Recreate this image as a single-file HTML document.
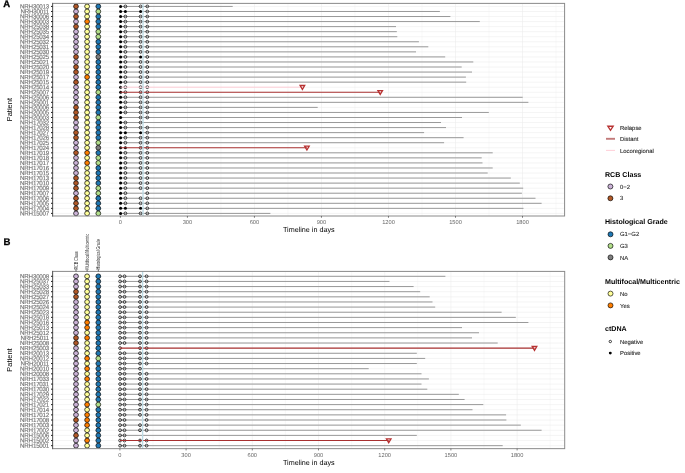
<!DOCTYPE html><html><head><meta charset="utf-8"><style>html,body{margin:0;padding:0;background:#fff;}svg{display:block;will-change:transform;}text{font-family:"Liberation Sans",sans-serif;text-rendering:geometricPrecision;}</style></head><body>
<svg width="685" height="473" viewBox="0 0 685 473">
<rect width="685" height="473" fill="#fff"/>
<line x1="120.40" y1="3.38" x2="120.40" y2="216.0" stroke="#ebebeb" stroke-width="0.55"/>
<line x1="153.91" y1="3.38" x2="153.91" y2="216.0" stroke="#f4f4f4" stroke-width="0.55"/>
<line x1="187.42" y1="3.38" x2="187.42" y2="216.0" stroke="#ebebeb" stroke-width="0.55"/>
<line x1="220.93" y1="3.38" x2="220.93" y2="216.0" stroke="#f4f4f4" stroke-width="0.55"/>
<line x1="254.43" y1="3.38" x2="254.43" y2="216.0" stroke="#ebebeb" stroke-width="0.55"/>
<line x1="287.94" y1="3.38" x2="287.94" y2="216.0" stroke="#f4f4f4" stroke-width="0.55"/>
<line x1="321.45" y1="3.38" x2="321.45" y2="216.0" stroke="#ebebeb" stroke-width="0.55"/>
<line x1="354.96" y1="3.38" x2="354.96" y2="216.0" stroke="#f4f4f4" stroke-width="0.55"/>
<line x1="388.47" y1="3.38" x2="388.47" y2="216.0" stroke="#ebebeb" stroke-width="0.55"/>
<line x1="421.98" y1="3.38" x2="421.98" y2="216.0" stroke="#f4f4f4" stroke-width="0.55"/>
<line x1="455.49" y1="3.38" x2="455.49" y2="216.0" stroke="#ebebeb" stroke-width="0.55"/>
<line x1="488.99" y1="3.38" x2="488.99" y2="216.0" stroke="#f4f4f4" stroke-width="0.55"/>
<line x1="522.50" y1="3.38" x2="522.50" y2="216.0" stroke="#ebebeb" stroke-width="0.55"/>
<line x1="556.01" y1="3.38" x2="556.01" y2="216.0" stroke="#f4f4f4" stroke-width="0.55"/>
<line x1="52.6" y1="6.43" x2="564.6" y2="6.43" stroke="#ebebeb" stroke-width="0.55"/>
<line x1="52.6" y1="11.48" x2="564.6" y2="11.48" stroke="#ebebeb" stroke-width="0.55"/>
<line x1="52.6" y1="16.53" x2="564.6" y2="16.53" stroke="#ebebeb" stroke-width="0.55"/>
<line x1="52.6" y1="21.57" x2="564.6" y2="21.57" stroke="#ebebeb" stroke-width="0.55"/>
<line x1="52.6" y1="26.62" x2="564.6" y2="26.62" stroke="#ebebeb" stroke-width="0.55"/>
<line x1="52.6" y1="31.67" x2="564.6" y2="31.67" stroke="#ebebeb" stroke-width="0.55"/>
<line x1="52.6" y1="36.72" x2="564.6" y2="36.72" stroke="#ebebeb" stroke-width="0.55"/>
<line x1="52.6" y1="41.77" x2="564.6" y2="41.77" stroke="#ebebeb" stroke-width="0.55"/>
<line x1="52.6" y1="46.81" x2="564.6" y2="46.81" stroke="#ebebeb" stroke-width="0.55"/>
<line x1="52.6" y1="51.86" x2="564.6" y2="51.86" stroke="#ebebeb" stroke-width="0.55"/>
<line x1="52.6" y1="56.91" x2="564.6" y2="56.91" stroke="#ebebeb" stroke-width="0.55"/>
<line x1="52.6" y1="61.96" x2="564.6" y2="61.96" stroke="#ebebeb" stroke-width="0.55"/>
<line x1="52.6" y1="67.01" x2="564.6" y2="67.01" stroke="#ebebeb" stroke-width="0.55"/>
<line x1="52.6" y1="72.05" x2="564.6" y2="72.05" stroke="#ebebeb" stroke-width="0.55"/>
<line x1="52.6" y1="77.10" x2="564.6" y2="77.10" stroke="#ebebeb" stroke-width="0.55"/>
<line x1="52.6" y1="82.15" x2="564.6" y2="82.15" stroke="#ebebeb" stroke-width="0.55"/>
<line x1="52.6" y1="87.20" x2="564.6" y2="87.20" stroke="#ebebeb" stroke-width="0.55"/>
<line x1="52.6" y1="92.25" x2="564.6" y2="92.25" stroke="#ebebeb" stroke-width="0.55"/>
<line x1="52.6" y1="97.29" x2="564.6" y2="97.29" stroke="#ebebeb" stroke-width="0.55"/>
<line x1="52.6" y1="102.34" x2="564.6" y2="102.34" stroke="#ebebeb" stroke-width="0.55"/>
<line x1="52.6" y1="107.39" x2="564.6" y2="107.39" stroke="#ebebeb" stroke-width="0.55"/>
<line x1="52.6" y1="112.44" x2="564.6" y2="112.44" stroke="#ebebeb" stroke-width="0.55"/>
<line x1="52.6" y1="117.49" x2="564.6" y2="117.49" stroke="#ebebeb" stroke-width="0.55"/>
<line x1="52.6" y1="122.53" x2="564.6" y2="122.53" stroke="#ebebeb" stroke-width="0.55"/>
<line x1="52.6" y1="127.58" x2="564.6" y2="127.58" stroke="#ebebeb" stroke-width="0.55"/>
<line x1="52.6" y1="132.63" x2="564.6" y2="132.63" stroke="#ebebeb" stroke-width="0.55"/>
<line x1="52.6" y1="137.68" x2="564.6" y2="137.68" stroke="#ebebeb" stroke-width="0.55"/>
<line x1="52.6" y1="142.73" x2="564.6" y2="142.73" stroke="#ebebeb" stroke-width="0.55"/>
<line x1="52.6" y1="147.77" x2="564.6" y2="147.77" stroke="#ebebeb" stroke-width="0.55"/>
<line x1="52.6" y1="152.82" x2="564.6" y2="152.82" stroke="#ebebeb" stroke-width="0.55"/>
<line x1="52.6" y1="157.87" x2="564.6" y2="157.87" stroke="#ebebeb" stroke-width="0.55"/>
<line x1="52.6" y1="162.92" x2="564.6" y2="162.92" stroke="#ebebeb" stroke-width="0.55"/>
<line x1="52.6" y1="167.97" x2="564.6" y2="167.97" stroke="#ebebeb" stroke-width="0.55"/>
<line x1="52.6" y1="173.01" x2="564.6" y2="173.01" stroke="#ebebeb" stroke-width="0.55"/>
<line x1="52.6" y1="178.06" x2="564.6" y2="178.06" stroke="#ebebeb" stroke-width="0.55"/>
<line x1="52.6" y1="183.11" x2="564.6" y2="183.11" stroke="#ebebeb" stroke-width="0.55"/>
<line x1="52.6" y1="188.16" x2="564.6" y2="188.16" stroke="#ebebeb" stroke-width="0.55"/>
<line x1="52.6" y1="193.21" x2="564.6" y2="193.21" stroke="#ebebeb" stroke-width="0.55"/>
<line x1="52.6" y1="198.25" x2="564.6" y2="198.25" stroke="#ebebeb" stroke-width="0.55"/>
<line x1="52.6" y1="203.30" x2="564.6" y2="203.30" stroke="#ebebeb" stroke-width="0.55"/>
<line x1="52.6" y1="208.35" x2="564.6" y2="208.35" stroke="#ebebeb" stroke-width="0.55"/>
<line x1="52.6" y1="213.40" x2="564.6" y2="213.40" stroke="#ebebeb" stroke-width="0.55"/>
<line x1="120.40" y1="6.43" x2="232.70" y2="6.43" stroke="#999" stroke-width="1.0"/>
<line x1="120.40" y1="11.48" x2="439.90" y2="11.48" stroke="#999" stroke-width="1.0"/>
<line x1="120.40" y1="16.53" x2="450.40" y2="16.53" stroke="#999" stroke-width="1.0"/>
<line x1="120.40" y1="21.57" x2="479.80" y2="21.57" stroke="#999" stroke-width="1.0"/>
<line x1="120.40" y1="26.62" x2="396.00" y2="26.62" stroke="#999" stroke-width="1.0"/>
<line x1="120.40" y1="31.67" x2="396.80" y2="31.67" stroke="#999" stroke-width="1.0"/>
<line x1="120.40" y1="36.72" x2="397.30" y2="36.72" stroke="#999" stroke-width="1.0"/>
<line x1="120.40" y1="41.77" x2="418.90" y2="41.77" stroke="#999" stroke-width="1.0"/>
<line x1="120.40" y1="46.81" x2="428.30" y2="46.81" stroke="#999" stroke-width="1.0"/>
<line x1="120.40" y1="51.86" x2="416.00" y2="51.86" stroke="#999" stroke-width="1.0"/>
<line x1="120.40" y1="56.91" x2="445.20" y2="56.91" stroke="#999" stroke-width="1.0"/>
<line x1="120.40" y1="61.96" x2="473.30" y2="61.96" stroke="#999" stroke-width="1.0"/>
<line x1="120.40" y1="67.01" x2="461.70" y2="67.01" stroke="#999" stroke-width="1.0"/>
<line x1="120.40" y1="72.05" x2="472.00" y2="72.05" stroke="#999" stroke-width="1.0"/>
<line x1="120.40" y1="77.10" x2="465.90" y2="77.10" stroke="#999" stroke-width="1.0"/>
<line x1="120.40" y1="82.15" x2="466.20" y2="82.15" stroke="#999" stroke-width="1.0"/>
<line x1="120.40" y1="97.29" x2="522.70" y2="97.29" stroke="#999" stroke-width="1.0"/>
<line x1="120.40" y1="102.34" x2="528.40" y2="102.34" stroke="#999" stroke-width="1.0"/>
<line x1="120.40" y1="107.39" x2="317.70" y2="107.39" stroke="#999" stroke-width="1.0"/>
<line x1="120.40" y1="112.44" x2="488.80" y2="112.44" stroke="#999" stroke-width="1.0"/>
<line x1="120.40" y1="117.49" x2="462.00" y2="117.49" stroke="#999" stroke-width="1.0"/>
<line x1="120.40" y1="122.53" x2="441.00" y2="122.53" stroke="#999" stroke-width="1.0"/>
<line x1="120.40" y1="127.58" x2="446.00" y2="127.58" stroke="#999" stroke-width="1.0"/>
<line x1="120.40" y1="132.63" x2="424.10" y2="132.63" stroke="#999" stroke-width="1.0"/>
<line x1="120.40" y1="137.68" x2="463.60" y2="137.68" stroke="#999" stroke-width="1.0"/>
<line x1="120.40" y1="142.73" x2="444.10" y2="142.73" stroke="#999" stroke-width="1.0"/>
<line x1="120.40" y1="152.82" x2="492.70" y2="152.82" stroke="#999" stroke-width="1.0"/>
<line x1="120.40" y1="157.87" x2="481.70" y2="157.87" stroke="#999" stroke-width="1.0"/>
<line x1="120.40" y1="162.92" x2="482.50" y2="162.92" stroke="#999" stroke-width="1.0"/>
<line x1="120.40" y1="167.97" x2="492.70" y2="167.97" stroke="#999" stroke-width="1.0"/>
<line x1="120.40" y1="173.01" x2="487.70" y2="173.01" stroke="#999" stroke-width="1.0"/>
<line x1="120.40" y1="178.06" x2="510.80" y2="178.06" stroke="#999" stroke-width="1.0"/>
<line x1="120.40" y1="183.11" x2="519.80" y2="183.11" stroke="#999" stroke-width="1.0"/>
<line x1="120.40" y1="188.16" x2="523.20" y2="188.16" stroke="#999" stroke-width="1.0"/>
<line x1="120.40" y1="193.21" x2="521.90" y2="193.21" stroke="#999" stroke-width="1.0"/>
<line x1="120.40" y1="198.25" x2="535.50" y2="198.25" stroke="#999" stroke-width="1.0"/>
<line x1="120.40" y1="203.30" x2="541.60" y2="203.30" stroke="#999" stroke-width="1.0"/>
<line x1="120.40" y1="208.35" x2="523.50" y2="208.35" stroke="#999" stroke-width="1.0"/>
<line x1="120.40" y1="213.40" x2="270.40" y2="213.40" stroke="#999" stroke-width="1.0"/>
<circle cx="120.60" cy="6.43" r="1.5" fill="#000"/>
<circle cx="125.40" cy="6.43" r="1.42" fill="none" stroke="#000" stroke-width="0.72"/>
<circle cx="140.60" cy="6.43" r="1.42" fill="none" stroke="#000" stroke-width="0.72"/>
<circle cx="147.30" cy="6.43" r="1.42" fill="none" stroke="#000" stroke-width="0.72"/>
<circle cx="120.60" cy="11.48" r="1.5" fill="#000"/>
<circle cx="125.40" cy="11.48" r="1.5" fill="#000"/>
<circle cx="140.60" cy="11.48" r="1.5" fill="#000"/>
<circle cx="147.30" cy="11.48" r="1.42" fill="none" stroke="#000" stroke-width="0.72"/>
<circle cx="120.60" cy="16.53" r="1.5" fill="#000"/>
<circle cx="125.40" cy="16.53" r="1.42" fill="none" stroke="#000" stroke-width="0.72"/>
<circle cx="140.60" cy="16.53" r="1.42" fill="none" stroke="#000" stroke-width="0.72"/>
<circle cx="147.30" cy="16.53" r="1.42" fill="none" stroke="#000" stroke-width="0.72"/>
<circle cx="120.60" cy="21.57" r="1.5" fill="#000"/>
<circle cx="125.40" cy="21.57" r="1.42" fill="none" stroke="#000" stroke-width="0.72"/>
<circle cx="140.60" cy="21.57" r="1.42" fill="none" stroke="#000" stroke-width="0.72"/>
<circle cx="147.30" cy="21.57" r="1.42" fill="none" stroke="#000" stroke-width="0.72"/>
<circle cx="120.60" cy="26.62" r="1.5" fill="#000"/>
<circle cx="125.40" cy="26.62" r="1.42" fill="none" stroke="#000" stroke-width="0.72"/>
<circle cx="140.60" cy="26.62" r="1.42" fill="none" stroke="#000" stroke-width="0.72"/>
<circle cx="147.30" cy="26.62" r="1.42" fill="none" stroke="#000" stroke-width="0.72"/>
<circle cx="120.60" cy="31.67" r="1.5" fill="#000"/>
<circle cx="125.40" cy="31.67" r="1.42" fill="none" stroke="#000" stroke-width="0.72"/>
<circle cx="140.60" cy="31.67" r="1.42" fill="none" stroke="#000" stroke-width="0.72"/>
<circle cx="147.30" cy="31.67" r="1.42" fill="none" stroke="#000" stroke-width="0.72"/>
<circle cx="120.60" cy="36.72" r="1.5" fill="#000"/>
<circle cx="125.40" cy="36.72" r="1.42" fill="none" stroke="#000" stroke-width="0.72"/>
<circle cx="140.60" cy="36.72" r="1.42" fill="none" stroke="#000" stroke-width="0.72"/>
<circle cx="147.30" cy="36.72" r="1.42" fill="none" stroke="#000" stroke-width="0.72"/>
<circle cx="120.60" cy="41.77" r="1.5" fill="#000"/>
<circle cx="125.40" cy="41.77" r="1.42" fill="none" stroke="#000" stroke-width="0.72"/>
<circle cx="140.60" cy="41.77" r="1.42" fill="none" stroke="#000" stroke-width="0.72"/>
<circle cx="147.30" cy="41.77" r="1.42" fill="none" stroke="#000" stroke-width="0.72"/>
<circle cx="120.60" cy="46.81" r="1.5" fill="#000"/>
<circle cx="125.40" cy="46.81" r="1.42" fill="none" stroke="#000" stroke-width="0.72"/>
<circle cx="140.60" cy="46.81" r="1.42" fill="none" stroke="#000" stroke-width="0.72"/>
<circle cx="147.30" cy="46.81" r="1.42" fill="none" stroke="#000" stroke-width="0.72"/>
<circle cx="120.60" cy="51.86" r="1.5" fill="#000"/>
<circle cx="125.40" cy="51.86" r="1.42" fill="none" stroke="#000" stroke-width="0.72"/>
<circle cx="140.60" cy="51.86" r="1.42" fill="none" stroke="#000" stroke-width="0.72"/>
<circle cx="147.30" cy="51.86" r="1.42" fill="none" stroke="#000" stroke-width="0.72"/>
<circle cx="120.60" cy="56.91" r="1.5" fill="#000"/>
<circle cx="125.40" cy="56.91" r="1.42" fill="none" stroke="#000" stroke-width="0.72"/>
<circle cx="140.60" cy="56.91" r="1.5" fill="#000"/>
<circle cx="147.30" cy="56.91" r="1.42" fill="none" stroke="#000" stroke-width="0.72"/>
<circle cx="120.60" cy="61.96" r="1.5" fill="#000"/>
<circle cx="125.40" cy="61.96" r="1.42" fill="none" stroke="#000" stroke-width="0.72"/>
<circle cx="140.60" cy="61.96" r="1.42" fill="none" stroke="#000" stroke-width="0.72"/>
<circle cx="147.30" cy="61.96" r="1.42" fill="none" stroke="#000" stroke-width="0.72"/>
<circle cx="120.60" cy="67.01" r="1.5" fill="#000"/>
<circle cx="125.40" cy="67.01" r="1.42" fill="none" stroke="#000" stroke-width="0.72"/>
<circle cx="140.60" cy="67.01" r="1.42" fill="none" stroke="#000" stroke-width="0.72"/>
<circle cx="147.30" cy="67.01" r="1.42" fill="none" stroke="#000" stroke-width="0.72"/>
<circle cx="120.60" cy="72.05" r="1.5" fill="#000"/>
<circle cx="125.40" cy="72.05" r="1.42" fill="none" stroke="#000" stroke-width="0.72"/>
<circle cx="140.60" cy="72.05" r="1.42" fill="none" stroke="#000" stroke-width="0.72"/>
<circle cx="147.30" cy="72.05" r="1.42" fill="none" stroke="#000" stroke-width="0.72"/>
<circle cx="120.60" cy="77.10" r="1.5" fill="#000"/>
<circle cx="125.40" cy="77.10" r="1.42" fill="none" stroke="#000" stroke-width="0.72"/>
<circle cx="140.60" cy="77.10" r="1.42" fill="none" stroke="#000" stroke-width="0.72"/>
<circle cx="147.30" cy="77.10" r="1.42" fill="none" stroke="#000" stroke-width="0.72"/>
<circle cx="120.60" cy="82.15" r="1.5" fill="#000"/>
<circle cx="125.40" cy="82.15" r="1.42" fill="none" stroke="#000" stroke-width="0.72"/>
<circle cx="140.60" cy="82.15" r="1.42" fill="none" stroke="#000" stroke-width="0.72"/>
<circle cx="147.30" cy="82.15" r="1.42" fill="none" stroke="#000" stroke-width="0.72"/>
<circle cx="120.60" cy="87.20" r="1.5" fill="#000"/>
<circle cx="125.40" cy="87.20" r="1.42" fill="none" stroke="#000" stroke-width="0.72"/>
<circle cx="140.60" cy="87.20" r="1.42" fill="none" stroke="#000" stroke-width="0.72"/>
<circle cx="147.30" cy="87.20" r="1.42" fill="none" stroke="#000" stroke-width="0.72"/>
<circle cx="120.60" cy="92.25" r="1.5" fill="#000"/>
<circle cx="125.40" cy="92.25" r="1.42" fill="none" stroke="#000" stroke-width="0.72"/>
<circle cx="140.60" cy="92.25" r="1.42" fill="none" stroke="#000" stroke-width="0.72"/>
<circle cx="147.30" cy="92.25" r="1.42" fill="none" stroke="#000" stroke-width="0.72"/>
<circle cx="120.60" cy="97.29" r="1.5" fill="#000"/>
<circle cx="125.40" cy="97.29" r="1.42" fill="none" stroke="#000" stroke-width="0.72"/>
<circle cx="140.60" cy="97.29" r="1.42" fill="none" stroke="#000" stroke-width="0.72"/>
<circle cx="147.30" cy="97.29" r="1.42" fill="none" stroke="#000" stroke-width="0.72"/>
<circle cx="120.60" cy="102.34" r="1.5" fill="#000"/>
<circle cx="125.40" cy="102.34" r="1.42" fill="none" stroke="#000" stroke-width="0.72"/>
<circle cx="140.60" cy="102.34" r="1.42" fill="none" stroke="#000" stroke-width="0.72"/>
<circle cx="147.30" cy="102.34" r="1.42" fill="none" stroke="#000" stroke-width="0.72"/>
<circle cx="120.60" cy="107.39" r="1.5" fill="#000"/>
<circle cx="125.40" cy="107.39" r="1.42" fill="none" stroke="#000" stroke-width="0.72"/>
<circle cx="140.60" cy="107.39" r="1.42" fill="none" stroke="#000" stroke-width="0.72"/>
<circle cx="147.30" cy="107.39" r="1.42" fill="none" stroke="#000" stroke-width="0.72"/>
<circle cx="120.60" cy="112.44" r="1.5" fill="#000"/>
<circle cx="125.40" cy="112.44" r="1.42" fill="none" stroke="#000" stroke-width="0.72"/>
<circle cx="140.60" cy="112.44" r="1.42" fill="none" stroke="#000" stroke-width="0.72"/>
<circle cx="147.30" cy="112.44" r="1.42" fill="none" stroke="#000" stroke-width="0.72"/>
<circle cx="120.60" cy="117.49" r="1.5" fill="#000"/>
<circle cx="140.60" cy="117.49" r="1.42" fill="none" stroke="#000" stroke-width="0.72"/>
<circle cx="147.30" cy="117.49" r="1.42" fill="none" stroke="#000" stroke-width="0.72"/>
<circle cx="120.60" cy="122.53" r="1.5" fill="#000"/>
<circle cx="125.40" cy="122.53" r="1.42" fill="none" stroke="#000" stroke-width="0.72"/>
<circle cx="140.60" cy="122.53" r="1.42" fill="none" stroke="#000" stroke-width="0.72"/>
<circle cx="120.60" cy="127.58" r="1.5" fill="#000"/>
<circle cx="125.40" cy="127.58" r="1.42" fill="none" stroke="#000" stroke-width="0.72"/>
<circle cx="140.60" cy="127.58" r="1.42" fill="none" stroke="#000" stroke-width="0.72"/>
<circle cx="147.30" cy="127.58" r="1.42" fill="none" stroke="#000" stroke-width="0.72"/>
<circle cx="120.60" cy="132.63" r="1.5" fill="#000"/>
<circle cx="125.40" cy="132.63" r="1.5" fill="#000"/>
<circle cx="140.60" cy="132.63" r="1.5" fill="#000"/>
<circle cx="147.30" cy="132.63" r="1.42" fill="none" stroke="#000" stroke-width="0.72"/>
<circle cx="120.60" cy="137.68" r="1.5" fill="#000"/>
<circle cx="125.40" cy="137.68" r="1.42" fill="none" stroke="#000" stroke-width="0.72"/>
<circle cx="140.60" cy="137.68" r="1.42" fill="none" stroke="#000" stroke-width="0.72"/>
<circle cx="147.30" cy="137.68" r="1.42" fill="none" stroke="#000" stroke-width="0.72"/>
<circle cx="120.60" cy="142.73" r="1.5" fill="#000"/>
<circle cx="125.40" cy="142.73" r="1.42" fill="none" stroke="#000" stroke-width="0.72"/>
<circle cx="140.60" cy="142.73" r="1.42" fill="none" stroke="#000" stroke-width="0.72"/>
<circle cx="147.30" cy="142.73" r="1.42" fill="none" stroke="#000" stroke-width="0.72"/>
<circle cx="120.60" cy="147.77" r="1.5" fill="#000"/>
<circle cx="125.40" cy="147.77" r="1.5" fill="#000"/>
<circle cx="140.60" cy="147.77" r="1.42" fill="none" stroke="#000" stroke-width="0.72"/>
<circle cx="147.30" cy="147.77" r="1.42" fill="none" stroke="#000" stroke-width="0.72"/>
<circle cx="120.60" cy="152.82" r="1.5" fill="#000"/>
<circle cx="125.40" cy="152.82" r="1.42" fill="none" stroke="#000" stroke-width="0.72"/>
<circle cx="140.60" cy="152.82" r="1.42" fill="none" stroke="#000" stroke-width="0.72"/>
<circle cx="147.30" cy="152.82" r="1.42" fill="none" stroke="#000" stroke-width="0.72"/>
<circle cx="120.60" cy="157.87" r="1.5" fill="#000"/>
<circle cx="125.40" cy="157.87" r="1.42" fill="none" stroke="#000" stroke-width="0.72"/>
<circle cx="140.60" cy="157.87" r="1.42" fill="none" stroke="#000" stroke-width="0.72"/>
<circle cx="147.30" cy="157.87" r="1.42" fill="none" stroke="#000" stroke-width="0.72"/>
<circle cx="120.60" cy="162.92" r="1.5" fill="#000"/>
<circle cx="125.40" cy="162.92" r="1.42" fill="none" stroke="#000" stroke-width="0.72"/>
<circle cx="140.60" cy="162.92" r="1.42" fill="none" stroke="#000" stroke-width="0.72"/>
<circle cx="147.30" cy="162.92" r="1.42" fill="none" stroke="#000" stroke-width="0.72"/>
<circle cx="120.60" cy="167.97" r="1.5" fill="#000"/>
<circle cx="125.40" cy="167.97" r="1.42" fill="none" stroke="#000" stroke-width="0.72"/>
<circle cx="140.60" cy="167.97" r="1.42" fill="none" stroke="#000" stroke-width="0.72"/>
<circle cx="147.30" cy="167.97" r="1.42" fill="none" stroke="#000" stroke-width="0.72"/>
<circle cx="120.60" cy="173.01" r="1.5" fill="#000"/>
<circle cx="125.40" cy="173.01" r="1.42" fill="none" stroke="#000" stroke-width="0.72"/>
<circle cx="140.60" cy="173.01" r="1.42" fill="none" stroke="#000" stroke-width="0.72"/>
<circle cx="147.30" cy="173.01" r="1.42" fill="none" stroke="#000" stroke-width="0.72"/>
<circle cx="120.60" cy="178.06" r="1.5" fill="#000"/>
<circle cx="125.40" cy="178.06" r="1.42" fill="none" stroke="#000" stroke-width="0.72"/>
<circle cx="140.60" cy="178.06" r="1.42" fill="none" stroke="#000" stroke-width="0.72"/>
<circle cx="147.30" cy="178.06" r="1.42" fill="none" stroke="#000" stroke-width="0.72"/>
<circle cx="120.60" cy="183.11" r="1.5" fill="#000"/>
<circle cx="125.40" cy="183.11" r="1.42" fill="none" stroke="#000" stroke-width="0.72"/>
<circle cx="140.60" cy="183.11" r="1.42" fill="none" stroke="#000" stroke-width="0.72"/>
<circle cx="147.30" cy="183.11" r="1.42" fill="none" stroke="#000" stroke-width="0.72"/>
<circle cx="120.60" cy="188.16" r="1.5" fill="#000"/>
<circle cx="125.40" cy="188.16" r="1.42" fill="none" stroke="#000" stroke-width="0.72"/>
<circle cx="140.60" cy="188.16" r="1.42" fill="none" stroke="#000" stroke-width="0.72"/>
<circle cx="147.30" cy="188.16" r="1.42" fill="none" stroke="#000" stroke-width="0.72"/>
<circle cx="120.60" cy="193.21" r="1.5" fill="#000"/>
<circle cx="125.40" cy="193.21" r="1.42" fill="none" stroke="#000" stroke-width="0.72"/>
<circle cx="147.30" cy="193.21" r="1.42" fill="none" stroke="#000" stroke-width="0.72"/>
<circle cx="120.60" cy="198.25" r="1.5" fill="#000"/>
<circle cx="125.40" cy="198.25" r="1.42" fill="none" stroke="#000" stroke-width="0.72"/>
<circle cx="140.60" cy="198.25" r="1.42" fill="none" stroke="#000" stroke-width="0.72"/>
<circle cx="147.30" cy="198.25" r="1.42" fill="none" stroke="#000" stroke-width="0.72"/>
<circle cx="120.60" cy="203.30" r="1.5" fill="#000"/>
<circle cx="125.40" cy="203.30" r="1.42" fill="none" stroke="#000" stroke-width="0.72"/>
<circle cx="140.60" cy="203.30" r="1.42" fill="none" stroke="#000" stroke-width="0.72"/>
<circle cx="147.30" cy="203.30" r="1.42" fill="none" stroke="#000" stroke-width="0.72"/>
<circle cx="120.60" cy="208.35" r="1.5" fill="#000"/>
<circle cx="125.40" cy="208.35" r="1.5" fill="#000"/>
<circle cx="140.60" cy="208.35" r="1.5" fill="#000"/>
<circle cx="147.30" cy="208.35" r="1.42" fill="none" stroke="#000" stroke-width="0.72"/>
<circle cx="120.60" cy="213.40" r="1.5" fill="#000"/>
<circle cx="125.40" cy="213.40" r="1.42" fill="none" stroke="#000" stroke-width="0.72"/>
<circle cx="140.60" cy="213.40" r="1.42" fill="none" stroke="#000" stroke-width="0.72"/>
<circle cx="147.30" cy="213.40" r="1.42" fill="none" stroke="#000" stroke-width="0.72"/>
<line x1="120.40" y1="87.20" x2="302.40" y2="87.20" stroke="#ffc8d2" stroke-width="0.9"/>
<line x1="120.40" y1="92.25" x2="380.20" y2="92.25" stroke="#a83030" stroke-width="1.1"/>
<line x1="120.40" y1="147.77" x2="306.90" y2="147.77" stroke="#a83030" stroke-width="1.1"/>
<line x1="143.0" y1="3.38" x2="143.0" y2="216.0" stroke="#bcdbe5" stroke-width="1.35"/>
<path d="M300.10,85.50 L304.70,85.50 L302.40,89.40 Z" fill="none" stroke="#b83232" stroke-width="1.3" stroke-linejoin="miter"/>
<path d="M377.90,90.55 L382.50,90.55 L380.20,94.45 Z" fill="none" stroke="#b83232" stroke-width="1.3" stroke-linejoin="miter"/>
<path d="M304.60,146.07 L309.20,146.07 L306.90,149.97 Z" fill="none" stroke="#b83232" stroke-width="1.3" stroke-linejoin="miter"/>
<circle cx="76.0" cy="6.43" r="2.4" fill="#b15928" stroke="#000" stroke-width="0.7"/>
<circle cx="87.1" cy="6.43" r="2.4" fill="#ffff99" stroke="#000" stroke-width="0.7"/>
<circle cx="98.3" cy="6.43" r="2.4" fill="#1f78b4" stroke="#000" stroke-width="0.7"/>
<circle cx="76.0" cy="11.48" r="2.4" fill="#cab2d6" stroke="#000" stroke-width="0.7"/>
<circle cx="87.1" cy="11.48" r="2.4" fill="#ffff99" stroke="#000" stroke-width="0.7"/>
<circle cx="98.3" cy="11.48" r="2.4" fill="#b2df8a" stroke="#000" stroke-width="0.7"/>
<circle cx="76.0" cy="16.53" r="2.4" fill="#b15928" stroke="#000" stroke-width="0.7"/>
<circle cx="87.1" cy="16.53" r="2.4" fill="#ffff99" stroke="#000" stroke-width="0.7"/>
<circle cx="98.3" cy="16.53" r="2.4" fill="#1f78b4" stroke="#000" stroke-width="0.7"/>
<circle cx="76.0" cy="21.57" r="2.4" fill="#cab2d6" stroke="#000" stroke-width="0.7"/>
<circle cx="87.1" cy="21.57" r="2.4" fill="#ff7f00" stroke="#000" stroke-width="0.7"/>
<circle cx="98.3" cy="21.57" r="2.4" fill="#1f78b4" stroke="#000" stroke-width="0.7"/>
<circle cx="76.0" cy="26.62" r="2.4" fill="#b15928" stroke="#000" stroke-width="0.7"/>
<circle cx="87.1" cy="26.62" r="2.4" fill="#ffff99" stroke="#000" stroke-width="0.7"/>
<circle cx="98.3" cy="26.62" r="2.4" fill="#1f78b4" stroke="#000" stroke-width="0.7"/>
<circle cx="76.0" cy="31.67" r="2.4" fill="#cab2d6" stroke="#000" stroke-width="0.7"/>
<circle cx="87.1" cy="31.67" r="2.4" fill="#ffff99" stroke="#000" stroke-width="0.7"/>
<circle cx="98.3" cy="31.67" r="2.4" fill="#b2df8a" stroke="#000" stroke-width="0.7"/>
<circle cx="76.0" cy="36.72" r="2.4" fill="#cab2d6" stroke="#000" stroke-width="0.7"/>
<circle cx="87.1" cy="36.72" r="2.4" fill="#ffff99" stroke="#000" stroke-width="0.7"/>
<circle cx="98.3" cy="36.72" r="2.4" fill="#b2df8a" stroke="#000" stroke-width="0.7"/>
<circle cx="76.0" cy="41.77" r="2.4" fill="#cab2d6" stroke="#000" stroke-width="0.7"/>
<circle cx="87.1" cy="41.77" r="2.4" fill="#ffff99" stroke="#000" stroke-width="0.7"/>
<circle cx="98.3" cy="41.77" r="2.4" fill="#1f78b4" stroke="#000" stroke-width="0.7"/>
<circle cx="76.0" cy="46.81" r="2.4" fill="#cab2d6" stroke="#000" stroke-width="0.7"/>
<circle cx="87.1" cy="46.81" r="2.4" fill="#ffff99" stroke="#000" stroke-width="0.7"/>
<circle cx="98.3" cy="46.81" r="2.4" fill="#1f78b4" stroke="#000" stroke-width="0.7"/>
<circle cx="76.0" cy="51.86" r="2.4" fill="#cab2d6" stroke="#000" stroke-width="0.7"/>
<circle cx="87.1" cy="51.86" r="2.4" fill="#ffff99" stroke="#000" stroke-width="0.7"/>
<circle cx="98.3" cy="51.86" r="2.4" fill="#1f78b4" stroke="#000" stroke-width="0.7"/>
<circle cx="76.0" cy="56.91" r="2.4" fill="#b15928" stroke="#000" stroke-width="0.7"/>
<circle cx="87.1" cy="56.91" r="2.4" fill="#ffff99" stroke="#000" stroke-width="0.7"/>
<circle cx="98.3" cy="56.91" r="2.4" fill="#7f7f7f" stroke="#000" stroke-width="0.7"/>
<circle cx="76.0" cy="61.96" r="2.4" fill="#cab2d6" stroke="#000" stroke-width="0.7"/>
<circle cx="87.1" cy="61.96" r="2.4" fill="#ffff99" stroke="#000" stroke-width="0.7"/>
<circle cx="98.3" cy="61.96" r="2.4" fill="#1f78b4" stroke="#000" stroke-width="0.7"/>
<circle cx="76.0" cy="67.01" r="2.4" fill="#b15928" stroke="#000" stroke-width="0.7"/>
<circle cx="87.1" cy="67.01" r="2.4" fill="#ffff99" stroke="#000" stroke-width="0.7"/>
<circle cx="98.3" cy="67.01" r="2.4" fill="#1f78b4" stroke="#000" stroke-width="0.7"/>
<circle cx="76.0" cy="72.05" r="2.4" fill="#b15928" stroke="#000" stroke-width="0.7"/>
<circle cx="87.1" cy="72.05" r="2.4" fill="#ffff99" stroke="#000" stroke-width="0.7"/>
<circle cx="98.3" cy="72.05" r="2.4" fill="#1f78b4" stroke="#000" stroke-width="0.7"/>
<circle cx="76.0" cy="77.10" r="2.4" fill="#cab2d6" stroke="#000" stroke-width="0.7"/>
<circle cx="87.1" cy="77.10" r="2.4" fill="#ff7f00" stroke="#000" stroke-width="0.7"/>
<circle cx="98.3" cy="77.10" r="2.4" fill="#1f78b4" stroke="#000" stroke-width="0.7"/>
<circle cx="76.0" cy="82.15" r="2.4" fill="#b15928" stroke="#000" stroke-width="0.7"/>
<circle cx="87.1" cy="82.15" r="2.4" fill="#ffff99" stroke="#000" stroke-width="0.7"/>
<circle cx="98.3" cy="82.15" r="2.4" fill="#1f78b4" stroke="#000" stroke-width="0.7"/>
<circle cx="76.0" cy="87.20" r="2.4" fill="#cab2d6" stroke="#000" stroke-width="0.7"/>
<circle cx="87.1" cy="87.20" r="2.4" fill="#ffff99" stroke="#000" stroke-width="0.7"/>
<circle cx="98.3" cy="87.20" r="2.4" fill="#1f78b4" stroke="#000" stroke-width="0.7"/>
<circle cx="76.0" cy="92.25" r="2.4" fill="#cab2d6" stroke="#000" stroke-width="0.7"/>
<circle cx="87.1" cy="92.25" r="2.4" fill="#ffff99" stroke="#000" stroke-width="0.7"/>
<circle cx="98.3" cy="92.25" r="2.4" fill="#b2df8a" stroke="#000" stroke-width="0.7"/>
<circle cx="76.0" cy="97.29" r="2.4" fill="#cab2d6" stroke="#000" stroke-width="0.7"/>
<circle cx="87.1" cy="97.29" r="2.4" fill="#ffff99" stroke="#000" stroke-width="0.7"/>
<circle cx="98.3" cy="97.29" r="2.4" fill="#1f78b4" stroke="#000" stroke-width="0.7"/>
<circle cx="76.0" cy="102.34" r="2.4" fill="#cab2d6" stroke="#000" stroke-width="0.7"/>
<circle cx="87.1" cy="102.34" r="2.4" fill="#ffff99" stroke="#000" stroke-width="0.7"/>
<circle cx="98.3" cy="102.34" r="2.4" fill="#1f78b4" stroke="#000" stroke-width="0.7"/>
<circle cx="76.0" cy="107.39" r="2.4" fill="#b15928" stroke="#000" stroke-width="0.7"/>
<circle cx="87.1" cy="107.39" r="2.4" fill="#ffff99" stroke="#000" stroke-width="0.7"/>
<circle cx="98.3" cy="107.39" r="2.4" fill="#1f78b4" stroke="#000" stroke-width="0.7"/>
<circle cx="76.0" cy="112.44" r="2.4" fill="#b15928" stroke="#000" stroke-width="0.7"/>
<circle cx="87.1" cy="112.44" r="2.4" fill="#ffff99" stroke="#000" stroke-width="0.7"/>
<circle cx="98.3" cy="112.44" r="2.4" fill="#1f78b4" stroke="#000" stroke-width="0.7"/>
<circle cx="76.0" cy="117.49" r="2.4" fill="#b15928" stroke="#000" stroke-width="0.7"/>
<circle cx="87.1" cy="117.49" r="2.4" fill="#ffff99" stroke="#000" stroke-width="0.7"/>
<circle cx="98.3" cy="117.49" r="2.4" fill="#b2df8a" stroke="#000" stroke-width="0.7"/>
<circle cx="76.0" cy="122.53" r="2.4" fill="#cab2d6" stroke="#000" stroke-width="0.7"/>
<circle cx="87.1" cy="122.53" r="2.4" fill="#ffff99" stroke="#000" stroke-width="0.7"/>
<circle cx="98.3" cy="122.53" r="2.4" fill="#1f78b4" stroke="#000" stroke-width="0.7"/>
<circle cx="76.0" cy="127.58" r="2.4" fill="#cab2d6" stroke="#000" stroke-width="0.7"/>
<circle cx="87.1" cy="127.58" r="2.4" fill="#ffff99" stroke="#000" stroke-width="0.7"/>
<circle cx="98.3" cy="127.58" r="2.4" fill="#1f78b4" stroke="#000" stroke-width="0.7"/>
<circle cx="76.0" cy="132.63" r="2.4" fill="#b15928" stroke="#000" stroke-width="0.7"/>
<circle cx="87.1" cy="132.63" r="2.4" fill="#ffff99" stroke="#000" stroke-width="0.7"/>
<circle cx="98.3" cy="132.63" r="2.4" fill="#1f78b4" stroke="#000" stroke-width="0.7"/>
<circle cx="76.0" cy="137.68" r="2.4" fill="#b15928" stroke="#000" stroke-width="0.7"/>
<circle cx="87.1" cy="137.68" r="2.4" fill="#ffff99" stroke="#000" stroke-width="0.7"/>
<circle cx="98.3" cy="137.68" r="2.4" fill="#1f78b4" stroke="#000" stroke-width="0.7"/>
<circle cx="76.0" cy="142.73" r="2.4" fill="#cab2d6" stroke="#000" stroke-width="0.7"/>
<circle cx="87.1" cy="142.73" r="2.4" fill="#ffff99" stroke="#000" stroke-width="0.7"/>
<circle cx="98.3" cy="142.73" r="2.4" fill="#b2df8a" stroke="#000" stroke-width="0.7"/>
<circle cx="76.0" cy="147.77" r="2.4" fill="#cab2d6" stroke="#000" stroke-width="0.7"/>
<circle cx="87.1" cy="147.77" r="2.4" fill="#ffff99" stroke="#000" stroke-width="0.7"/>
<circle cx="98.3" cy="147.77" r="2.4" fill="#7f7f7f" stroke="#000" stroke-width="0.7"/>
<circle cx="76.0" cy="152.82" r="2.4" fill="#b15928" stroke="#000" stroke-width="0.7"/>
<circle cx="87.1" cy="152.82" r="2.4" fill="#ff7f00" stroke="#000" stroke-width="0.7"/>
<circle cx="98.3" cy="152.82" r="2.4" fill="#1f78b4" stroke="#000" stroke-width="0.7"/>
<circle cx="76.0" cy="157.87" r="2.4" fill="#cab2d6" stroke="#000" stroke-width="0.7"/>
<circle cx="87.1" cy="157.87" r="2.4" fill="#ffff99" stroke="#000" stroke-width="0.7"/>
<circle cx="98.3" cy="157.87" r="2.4" fill="#b2df8a" stroke="#000" stroke-width="0.7"/>
<circle cx="76.0" cy="162.92" r="2.4" fill="#cab2d6" stroke="#000" stroke-width="0.7"/>
<circle cx="87.1" cy="162.92" r="2.4" fill="#ff7f00" stroke="#000" stroke-width="0.7"/>
<circle cx="98.3" cy="162.92" r="2.4" fill="#b2df8a" stroke="#000" stroke-width="0.7"/>
<circle cx="76.0" cy="167.97" r="2.4" fill="#cab2d6" stroke="#000" stroke-width="0.7"/>
<circle cx="87.1" cy="167.97" r="2.4" fill="#ffff99" stroke="#000" stroke-width="0.7"/>
<circle cx="98.3" cy="167.97" r="2.4" fill="#1f78b4" stroke="#000" stroke-width="0.7"/>
<circle cx="76.0" cy="173.01" r="2.4" fill="#cab2d6" stroke="#000" stroke-width="0.7"/>
<circle cx="87.1" cy="173.01" r="2.4" fill="#ffff99" stroke="#000" stroke-width="0.7"/>
<circle cx="98.3" cy="173.01" r="2.4" fill="#1f78b4" stroke="#000" stroke-width="0.7"/>
<circle cx="76.0" cy="178.06" r="2.4" fill="#b15928" stroke="#000" stroke-width="0.7"/>
<circle cx="87.1" cy="178.06" r="2.4" fill="#ffff99" stroke="#000" stroke-width="0.7"/>
<circle cx="98.3" cy="178.06" r="2.4" fill="#1f78b4" stroke="#000" stroke-width="0.7"/>
<circle cx="76.0" cy="183.11" r="2.4" fill="#b15928" stroke="#000" stroke-width="0.7"/>
<circle cx="87.1" cy="183.11" r="2.4" fill="#ffff99" stroke="#000" stroke-width="0.7"/>
<circle cx="98.3" cy="183.11" r="2.4" fill="#1f78b4" stroke="#000" stroke-width="0.7"/>
<circle cx="76.0" cy="188.16" r="2.4" fill="#b15928" stroke="#000" stroke-width="0.7"/>
<circle cx="87.1" cy="188.16" r="2.4" fill="#ffff99" stroke="#000" stroke-width="0.7"/>
<circle cx="98.3" cy="188.16" r="2.4" fill="#b2df8a" stroke="#000" stroke-width="0.7"/>
<circle cx="76.0" cy="193.21" r="2.4" fill="#cab2d6" stroke="#000" stroke-width="0.7"/>
<circle cx="87.1" cy="193.21" r="2.4" fill="#ffff99" stroke="#000" stroke-width="0.7"/>
<circle cx="98.3" cy="193.21" r="2.4" fill="#b2df8a" stroke="#000" stroke-width="0.7"/>
<circle cx="76.0" cy="198.25" r="2.4" fill="#b15928" stroke="#000" stroke-width="0.7"/>
<circle cx="87.1" cy="198.25" r="2.4" fill="#ffff99" stroke="#000" stroke-width="0.7"/>
<circle cx="98.3" cy="198.25" r="2.4" fill="#1f78b4" stroke="#000" stroke-width="0.7"/>
<circle cx="76.0" cy="203.30" r="2.4" fill="#b15928" stroke="#000" stroke-width="0.7"/>
<circle cx="87.1" cy="203.30" r="2.4" fill="#ffff99" stroke="#000" stroke-width="0.7"/>
<circle cx="98.3" cy="203.30" r="2.4" fill="#1f78b4" stroke="#000" stroke-width="0.7"/>
<circle cx="76.0" cy="208.35" r="2.4" fill="#b15928" stroke="#000" stroke-width="0.7"/>
<circle cx="87.1" cy="208.35" r="2.4" fill="#ffff99" stroke="#000" stroke-width="0.7"/>
<circle cx="98.3" cy="208.35" r="2.4" fill="#1f78b4" stroke="#000" stroke-width="0.7"/>
<circle cx="76.0" cy="213.40" r="2.4" fill="#cab2d6" stroke="#000" stroke-width="0.7"/>
<circle cx="87.1" cy="213.40" r="2.4" fill="#ffff99" stroke="#000" stroke-width="0.7"/>
<circle cx="98.3" cy="213.40" r="2.4" fill="#b2df8a" stroke="#000" stroke-width="0.7"/>
<rect x="52.6" y="3.38" width="512.0" height="212.62" fill="none" stroke="#8a8a8a" stroke-width="1"/>
<line x1="52.6" y1="2.88" x2="52.6" y2="216.5" stroke="#606060" stroke-width="1"/>
<line x1="51.0" y1="6.43" x2="52.6" y2="6.43" stroke="#222" stroke-width="1"/>
<text x="0" y="0" transform="translate(49.1,8.63) rotate(0.3)" text-anchor="end" font-size="6.2" fill="#707070" stroke="#7a7a7a" stroke-width="0.15" letter-spacing="-0.2">NRH30013</text>
<line x1="51.0" y1="11.48" x2="52.6" y2="11.48" stroke="#222" stroke-width="1"/>
<text x="0" y="0" transform="translate(49.1,13.68) rotate(0.3)" text-anchor="end" font-size="6.2" fill="#707070" stroke="#7a7a7a" stroke-width="0.15" letter-spacing="-0.2">NRH30011</text>
<line x1="51.0" y1="16.53" x2="52.6" y2="16.53" stroke="#222" stroke-width="1"/>
<text x="0" y="0" transform="translate(49.1,18.73) rotate(0.3)" text-anchor="end" font-size="6.2" fill="#707070" stroke="#7a7a7a" stroke-width="0.15" letter-spacing="-0.2">NRH30006</text>
<line x1="51.0" y1="21.57" x2="52.6" y2="21.57" stroke="#222" stroke-width="1"/>
<text x="0" y="0" transform="translate(49.1,23.77) rotate(0.3)" text-anchor="end" font-size="6.2" fill="#707070" stroke="#7a7a7a" stroke-width="0.15" letter-spacing="-0.2">NRH30003</text>
<line x1="51.0" y1="26.62" x2="52.6" y2="26.62" stroke="#222" stroke-width="1"/>
<text x="0" y="0" transform="translate(49.1,28.82) rotate(0.3)" text-anchor="end" font-size="6.2" fill="#707070" stroke="#7a7a7a" stroke-width="0.15" letter-spacing="-0.2">NRH25038</text>
<line x1="51.0" y1="31.67" x2="52.6" y2="31.67" stroke="#222" stroke-width="1"/>
<text x="0" y="0" transform="translate(49.1,33.87) rotate(0.3)" text-anchor="end" font-size="6.2" fill="#707070" stroke="#7a7a7a" stroke-width="0.15" letter-spacing="-0.2">NRH25035</text>
<line x1="51.0" y1="36.72" x2="52.6" y2="36.72" stroke="#222" stroke-width="1"/>
<text x="0" y="0" transform="translate(49.1,38.92) rotate(0.3)" text-anchor="end" font-size="6.2" fill="#707070" stroke="#7a7a7a" stroke-width="0.15" letter-spacing="-0.2">NRH25034</text>
<line x1="51.0" y1="41.77" x2="52.6" y2="41.77" stroke="#222" stroke-width="1"/>
<text x="0" y="0" transform="translate(49.1,43.97) rotate(0.3)" text-anchor="end" font-size="6.2" fill="#707070" stroke="#7a7a7a" stroke-width="0.15" letter-spacing="-0.2">NRH25032</text>
<line x1="51.0" y1="46.81" x2="52.6" y2="46.81" stroke="#222" stroke-width="1"/>
<text x="0" y="0" transform="translate(49.1,49.01) rotate(0.3)" text-anchor="end" font-size="6.2" fill="#707070" stroke="#7a7a7a" stroke-width="0.15" letter-spacing="-0.2">NRH25031</text>
<line x1="51.0" y1="51.86" x2="52.6" y2="51.86" stroke="#222" stroke-width="1"/>
<text x="0" y="0" transform="translate(49.1,54.06) rotate(0.3)" text-anchor="end" font-size="6.2" fill="#707070" stroke="#7a7a7a" stroke-width="0.15" letter-spacing="-0.2">NRH25030</text>
<line x1="51.0" y1="56.91" x2="52.6" y2="56.91" stroke="#222" stroke-width="1"/>
<text x="0" y="0" transform="translate(49.1,59.11) rotate(0.3)" text-anchor="end" font-size="6.2" fill="#707070" stroke="#7a7a7a" stroke-width="0.15" letter-spacing="-0.2">NRH25025</text>
<line x1="51.0" y1="61.96" x2="52.6" y2="61.96" stroke="#222" stroke-width="1"/>
<text x="0" y="0" transform="translate(49.1,64.16) rotate(0.3)" text-anchor="end" font-size="6.2" fill="#707070" stroke="#7a7a7a" stroke-width="0.15" letter-spacing="-0.2">NRH25021</text>
<line x1="51.0" y1="67.01" x2="52.6" y2="67.01" stroke="#222" stroke-width="1"/>
<text x="0" y="0" transform="translate(49.1,69.21) rotate(0.3)" text-anchor="end" font-size="6.2" fill="#707070" stroke="#7a7a7a" stroke-width="0.15" letter-spacing="-0.2">NRH25020</text>
<line x1="51.0" y1="72.05" x2="52.6" y2="72.05" stroke="#222" stroke-width="1"/>
<text x="0" y="0" transform="translate(49.1,74.25) rotate(0.3)" text-anchor="end" font-size="6.2" fill="#707070" stroke="#7a7a7a" stroke-width="0.15" letter-spacing="-0.2">NRH25019</text>
<line x1="51.0" y1="77.10" x2="52.6" y2="77.10" stroke="#222" stroke-width="1"/>
<text x="0" y="0" transform="translate(49.1,79.30) rotate(0.3)" text-anchor="end" font-size="6.2" fill="#707070" stroke="#7a7a7a" stroke-width="0.15" letter-spacing="-0.2">NRH25017</text>
<line x1="51.0" y1="82.15" x2="52.6" y2="82.15" stroke="#222" stroke-width="1"/>
<text x="0" y="0" transform="translate(49.1,84.35) rotate(0.3)" text-anchor="end" font-size="6.2" fill="#707070" stroke="#7a7a7a" stroke-width="0.15" letter-spacing="-0.2">NRH25015</text>
<line x1="51.0" y1="87.20" x2="52.6" y2="87.20" stroke="#222" stroke-width="1"/>
<text x="0" y="0" transform="translate(49.1,89.40) rotate(0.3)" text-anchor="end" font-size="6.2" fill="#707070" stroke="#7a7a7a" stroke-width="0.15" letter-spacing="-0.2">NRH25014</text>
<line x1="51.0" y1="92.25" x2="52.6" y2="92.25" stroke="#222" stroke-width="1"/>
<text x="0" y="0" transform="translate(49.1,94.45) rotate(0.3)" text-anchor="end" font-size="6.2" fill="#707070" stroke="#7a7a7a" stroke-width="0.15" letter-spacing="-0.2">NRH25007</text>
<line x1="51.0" y1="97.29" x2="52.6" y2="97.29" stroke="#222" stroke-width="1"/>
<text x="0" y="0" transform="translate(49.1,99.49) rotate(0.3)" text-anchor="end" font-size="6.2" fill="#707070" stroke="#7a7a7a" stroke-width="0.15" letter-spacing="-0.2">NRH25006</text>
<line x1="51.0" y1="102.34" x2="52.6" y2="102.34" stroke="#222" stroke-width="1"/>
<text x="0" y="0" transform="translate(49.1,104.54) rotate(0.3)" text-anchor="end" font-size="6.2" fill="#707070" stroke="#7a7a7a" stroke-width="0.15" letter-spacing="-0.2">NRH25001</text>
<line x1="51.0" y1="107.39" x2="52.6" y2="107.39" stroke="#222" stroke-width="1"/>
<text x="0" y="0" transform="translate(49.1,109.59) rotate(0.3)" text-anchor="end" font-size="6.2" fill="#707070" stroke="#7a7a7a" stroke-width="0.15" letter-spacing="-0.2">NRH20006</text>
<line x1="51.0" y1="112.44" x2="52.6" y2="112.44" stroke="#222" stroke-width="1"/>
<text x="0" y="0" transform="translate(49.1,114.64) rotate(0.3)" text-anchor="end" font-size="6.2" fill="#707070" stroke="#7a7a7a" stroke-width="0.15" letter-spacing="-0.2">NRH20005</text>
<line x1="51.0" y1="117.49" x2="52.6" y2="117.49" stroke="#222" stroke-width="1"/>
<text x="0" y="0" transform="translate(49.1,119.69) rotate(0.3)" text-anchor="end" font-size="6.2" fill="#707070" stroke="#7a7a7a" stroke-width="0.15" letter-spacing="-0.2">NRH20003</text>
<line x1="51.0" y1="122.53" x2="52.6" y2="122.53" stroke="#222" stroke-width="1"/>
<text x="0" y="0" transform="translate(49.1,124.73) rotate(0.3)" text-anchor="end" font-size="6.2" fill="#707070" stroke="#7a7a7a" stroke-width="0.15" letter-spacing="-0.2">NRH17032</text>
<line x1="51.0" y1="127.58" x2="52.6" y2="127.58" stroke="#222" stroke-width="1"/>
<text x="0" y="0" transform="translate(49.1,129.78) rotate(0.3)" text-anchor="end" font-size="6.2" fill="#707070" stroke="#7a7a7a" stroke-width="0.15" letter-spacing="-0.2">NRH17028</text>
<line x1="51.0" y1="132.63" x2="52.6" y2="132.63" stroke="#222" stroke-width="1"/>
<text x="0" y="0" transform="translate(49.1,134.83) rotate(0.3)" text-anchor="end" font-size="6.2" fill="#707070" stroke="#7a7a7a" stroke-width="0.15" letter-spacing="-0.2">NRH17027</text>
<line x1="51.0" y1="137.68" x2="52.6" y2="137.68" stroke="#222" stroke-width="1"/>
<text x="0" y="0" transform="translate(49.1,139.88) rotate(0.3)" text-anchor="end" font-size="6.2" fill="#707070" stroke="#7a7a7a" stroke-width="0.15" letter-spacing="-0.2">NRH17026</text>
<line x1="51.0" y1="142.73" x2="52.6" y2="142.73" stroke="#222" stroke-width="1"/>
<text x="0" y="0" transform="translate(49.1,144.93) rotate(0.3)" text-anchor="end" font-size="6.2" fill="#707070" stroke="#7a7a7a" stroke-width="0.15" letter-spacing="-0.2">NRH17025</text>
<line x1="51.0" y1="147.77" x2="52.6" y2="147.77" stroke="#222" stroke-width="1"/>
<text x="0" y="0" transform="translate(49.1,149.97) rotate(0.3)" text-anchor="end" font-size="6.2" fill="#707070" stroke="#7a7a7a" stroke-width="0.15" letter-spacing="-0.2">NRH17024</text>
<line x1="51.0" y1="152.82" x2="52.6" y2="152.82" stroke="#222" stroke-width="1"/>
<text x="0" y="0" transform="translate(49.1,155.02) rotate(0.3)" text-anchor="end" font-size="6.2" fill="#707070" stroke="#7a7a7a" stroke-width="0.15" letter-spacing="-0.2">NRH17019</text>
<line x1="51.0" y1="157.87" x2="52.6" y2="157.87" stroke="#222" stroke-width="1"/>
<text x="0" y="0" transform="translate(49.1,160.07) rotate(0.3)" text-anchor="end" font-size="6.2" fill="#707070" stroke="#7a7a7a" stroke-width="0.15" letter-spacing="-0.2">NRH17018</text>
<line x1="51.0" y1="162.92" x2="52.6" y2="162.92" stroke="#222" stroke-width="1"/>
<text x="0" y="0" transform="translate(49.1,165.12) rotate(0.3)" text-anchor="end" font-size="6.2" fill="#707070" stroke="#7a7a7a" stroke-width="0.15" letter-spacing="-0.2">NRH17017</text>
<line x1="51.0" y1="167.97" x2="52.6" y2="167.97" stroke="#222" stroke-width="1"/>
<text x="0" y="0" transform="translate(49.1,170.17) rotate(0.3)" text-anchor="end" font-size="6.2" fill="#707070" stroke="#7a7a7a" stroke-width="0.15" letter-spacing="-0.2">NRH17016</text>
<line x1="51.0" y1="173.01" x2="52.6" y2="173.01" stroke="#222" stroke-width="1"/>
<text x="0" y="0" transform="translate(49.1,175.21) rotate(0.3)" text-anchor="end" font-size="6.2" fill="#707070" stroke="#7a7a7a" stroke-width="0.15" letter-spacing="-0.2">NRH17015</text>
<line x1="51.0" y1="178.06" x2="52.6" y2="178.06" stroke="#222" stroke-width="1"/>
<text x="0" y="0" transform="translate(49.1,180.26) rotate(0.3)" text-anchor="end" font-size="6.2" fill="#707070" stroke="#7a7a7a" stroke-width="0.15" letter-spacing="-0.2">NRH17013</text>
<line x1="51.0" y1="183.11" x2="52.6" y2="183.11" stroke="#222" stroke-width="1"/>
<text x="0" y="0" transform="translate(49.1,185.31) rotate(0.3)" text-anchor="end" font-size="6.2" fill="#707070" stroke="#7a7a7a" stroke-width="0.15" letter-spacing="-0.2">NRH17010</text>
<line x1="51.0" y1="188.16" x2="52.6" y2="188.16" stroke="#222" stroke-width="1"/>
<text x="0" y="0" transform="translate(49.1,190.36) rotate(0.3)" text-anchor="end" font-size="6.2" fill="#707070" stroke="#7a7a7a" stroke-width="0.15" letter-spacing="-0.2">NRH17009</text>
<line x1="51.0" y1="193.21" x2="52.6" y2="193.21" stroke="#222" stroke-width="1"/>
<text x="0" y="0" transform="translate(49.1,195.41) rotate(0.3)" text-anchor="end" font-size="6.2" fill="#707070" stroke="#7a7a7a" stroke-width="0.15" letter-spacing="-0.2">NRH17007</text>
<line x1="51.0" y1="198.25" x2="52.6" y2="198.25" stroke="#222" stroke-width="1"/>
<text x="0" y="0" transform="translate(49.1,200.45) rotate(0.3)" text-anchor="end" font-size="6.2" fill="#707070" stroke="#7a7a7a" stroke-width="0.15" letter-spacing="-0.2">NRH17006</text>
<line x1="51.0" y1="203.30" x2="52.6" y2="203.30" stroke="#222" stroke-width="1"/>
<text x="0" y="0" transform="translate(49.1,205.50) rotate(0.3)" text-anchor="end" font-size="6.2" fill="#707070" stroke="#7a7a7a" stroke-width="0.15" letter-spacing="-0.2">NRH17005</text>
<line x1="51.0" y1="208.35" x2="52.6" y2="208.35" stroke="#222" stroke-width="1"/>
<text x="0" y="0" transform="translate(49.1,210.55) rotate(0.3)" text-anchor="end" font-size="6.2" fill="#707070" stroke="#7a7a7a" stroke-width="0.15" letter-spacing="-0.2">NRH17004</text>
<line x1="51.0" y1="213.40" x2="52.6" y2="213.40" stroke="#222" stroke-width="1"/>
<text x="0" y="0" transform="translate(49.1,215.60) rotate(0.3)" text-anchor="end" font-size="6.2" fill="#707070" stroke="#7a7a7a" stroke-width="0.15" letter-spacing="-0.2">NRH15007</text>
<line x1="120.40" y1="216.0" x2="120.40" y2="217.8" stroke="#333" stroke-width="0.6"/>
<text x="120.40" y="224.0" text-anchor="middle" font-size="5.7" fill="#666">0</text>
<line x1="187.42" y1="216.0" x2="187.42" y2="217.8" stroke="#333" stroke-width="0.6"/>
<text x="187.42" y="224.0" text-anchor="middle" font-size="5.7" fill="#666">300</text>
<line x1="254.43" y1="216.0" x2="254.43" y2="217.8" stroke="#333" stroke-width="0.6"/>
<text x="254.43" y="224.0" text-anchor="middle" font-size="5.7" fill="#666">600</text>
<line x1="321.45" y1="216.0" x2="321.45" y2="217.8" stroke="#333" stroke-width="0.6"/>
<text x="321.45" y="224.0" text-anchor="middle" font-size="5.7" fill="#666">900</text>
<line x1="388.47" y1="216.0" x2="388.47" y2="217.8" stroke="#333" stroke-width="0.6"/>
<text x="388.47" y="224.0" text-anchor="middle" font-size="5.7" fill="#666">1200</text>
<line x1="455.49" y1="216.0" x2="455.49" y2="217.8" stroke="#333" stroke-width="0.6"/>
<text x="455.49" y="224.0" text-anchor="middle" font-size="5.7" fill="#666">1500</text>
<line x1="522.50" y1="216.0" x2="522.50" y2="217.8" stroke="#333" stroke-width="0.6"/>
<text x="522.50" y="224.0" text-anchor="middle" font-size="5.7" fill="#666">1800</text>
<text x="308.8" y="232.0" text-anchor="middle" font-size="7.2" fill="#000">Timeline in days</text>
<text x="0" y="0" text-anchor="middle" font-size="7.5" fill="#000" style="text-rendering:optimizeLegibility" transform="translate(12.2,109.69) rotate(-90)">Patient</text>
<line x1="119.90" y1="271.4" x2="119.90" y2="448.65" stroke="#ebebeb" stroke-width="0.55"/>
<line x1="153.00" y1="271.4" x2="153.00" y2="448.65" stroke="#f4f4f4" stroke-width="0.55"/>
<line x1="186.10" y1="271.4" x2="186.10" y2="448.65" stroke="#ebebeb" stroke-width="0.55"/>
<line x1="219.20" y1="271.4" x2="219.20" y2="448.65" stroke="#f4f4f4" stroke-width="0.55"/>
<line x1="252.30" y1="271.4" x2="252.30" y2="448.65" stroke="#ebebeb" stroke-width="0.55"/>
<line x1="285.40" y1="271.4" x2="285.40" y2="448.65" stroke="#f4f4f4" stroke-width="0.55"/>
<line x1="318.50" y1="271.4" x2="318.50" y2="448.65" stroke="#ebebeb" stroke-width="0.55"/>
<line x1="351.60" y1="271.4" x2="351.60" y2="448.65" stroke="#f4f4f4" stroke-width="0.55"/>
<line x1="384.70" y1="271.4" x2="384.70" y2="448.65" stroke="#ebebeb" stroke-width="0.55"/>
<line x1="417.80" y1="271.4" x2="417.80" y2="448.65" stroke="#f4f4f4" stroke-width="0.55"/>
<line x1="450.90" y1="271.4" x2="450.90" y2="448.65" stroke="#ebebeb" stroke-width="0.55"/>
<line x1="484.01" y1="271.4" x2="484.01" y2="448.65" stroke="#f4f4f4" stroke-width="0.55"/>
<line x1="517.11" y1="271.4" x2="517.11" y2="448.65" stroke="#ebebeb" stroke-width="0.55"/>
<line x1="550.21" y1="271.4" x2="550.21" y2="448.65" stroke="#f4f4f4" stroke-width="0.55"/>
<line x1="52.6" y1="276.30" x2="564.7" y2="276.30" stroke="#ebebeb" stroke-width="0.55"/>
<line x1="52.6" y1="281.43" x2="564.7" y2="281.43" stroke="#ebebeb" stroke-width="0.55"/>
<line x1="52.6" y1="286.56" x2="564.7" y2="286.56" stroke="#ebebeb" stroke-width="0.55"/>
<line x1="52.6" y1="291.70" x2="564.7" y2="291.70" stroke="#ebebeb" stroke-width="0.55"/>
<line x1="52.6" y1="296.83" x2="564.7" y2="296.83" stroke="#ebebeb" stroke-width="0.55"/>
<line x1="52.6" y1="301.96" x2="564.7" y2="301.96" stroke="#ebebeb" stroke-width="0.55"/>
<line x1="52.6" y1="307.09" x2="564.7" y2="307.09" stroke="#ebebeb" stroke-width="0.55"/>
<line x1="52.6" y1="312.22" x2="564.7" y2="312.22" stroke="#ebebeb" stroke-width="0.55"/>
<line x1="52.6" y1="317.36" x2="564.7" y2="317.36" stroke="#ebebeb" stroke-width="0.55"/>
<line x1="52.6" y1="322.49" x2="564.7" y2="322.49" stroke="#ebebeb" stroke-width="0.55"/>
<line x1="52.6" y1="327.62" x2="564.7" y2="327.62" stroke="#ebebeb" stroke-width="0.55"/>
<line x1="52.6" y1="332.75" x2="564.7" y2="332.75" stroke="#ebebeb" stroke-width="0.55"/>
<line x1="52.6" y1="337.88" x2="564.7" y2="337.88" stroke="#ebebeb" stroke-width="0.55"/>
<line x1="52.6" y1="343.02" x2="564.7" y2="343.02" stroke="#ebebeb" stroke-width="0.55"/>
<line x1="52.6" y1="348.15" x2="564.7" y2="348.15" stroke="#ebebeb" stroke-width="0.55"/>
<line x1="52.6" y1="353.28" x2="564.7" y2="353.28" stroke="#ebebeb" stroke-width="0.55"/>
<line x1="52.6" y1="358.41" x2="564.7" y2="358.41" stroke="#ebebeb" stroke-width="0.55"/>
<line x1="52.6" y1="363.54" x2="564.7" y2="363.54" stroke="#ebebeb" stroke-width="0.55"/>
<line x1="52.6" y1="368.68" x2="564.7" y2="368.68" stroke="#ebebeb" stroke-width="0.55"/>
<line x1="52.6" y1="373.81" x2="564.7" y2="373.81" stroke="#ebebeb" stroke-width="0.55"/>
<line x1="52.6" y1="378.94" x2="564.7" y2="378.94" stroke="#ebebeb" stroke-width="0.55"/>
<line x1="52.6" y1="384.07" x2="564.7" y2="384.07" stroke="#ebebeb" stroke-width="0.55"/>
<line x1="52.6" y1="389.20" x2="564.7" y2="389.20" stroke="#ebebeb" stroke-width="0.55"/>
<line x1="52.6" y1="394.34" x2="564.7" y2="394.34" stroke="#ebebeb" stroke-width="0.55"/>
<line x1="52.6" y1="399.47" x2="564.7" y2="399.47" stroke="#ebebeb" stroke-width="0.55"/>
<line x1="52.6" y1="404.60" x2="564.7" y2="404.60" stroke="#ebebeb" stroke-width="0.55"/>
<line x1="52.6" y1="409.73" x2="564.7" y2="409.73" stroke="#ebebeb" stroke-width="0.55"/>
<line x1="52.6" y1="414.86" x2="564.7" y2="414.86" stroke="#ebebeb" stroke-width="0.55"/>
<line x1="52.6" y1="420.00" x2="564.7" y2="420.00" stroke="#ebebeb" stroke-width="0.55"/>
<line x1="52.6" y1="425.13" x2="564.7" y2="425.13" stroke="#ebebeb" stroke-width="0.55"/>
<line x1="52.6" y1="430.26" x2="564.7" y2="430.26" stroke="#ebebeb" stroke-width="0.55"/>
<line x1="52.6" y1="435.39" x2="564.7" y2="435.39" stroke="#ebebeb" stroke-width="0.55"/>
<line x1="52.6" y1="440.52" x2="564.7" y2="440.52" stroke="#ebebeb" stroke-width="0.55"/>
<line x1="52.6" y1="445.66" x2="564.7" y2="445.66" stroke="#ebebeb" stroke-width="0.55"/>
<line x1="119.90" y1="276.30" x2="445.40" y2="276.30" stroke="#999" stroke-width="1.0"/>
<line x1="119.90" y1="281.43" x2="389.50" y2="281.43" stroke="#999" stroke-width="1.0"/>
<line x1="119.90" y1="286.56" x2="413.60" y2="286.56" stroke="#999" stroke-width="1.0"/>
<line x1="119.90" y1="291.70" x2="420.20" y2="291.70" stroke="#999" stroke-width="1.0"/>
<line x1="119.90" y1="296.83" x2="429.70" y2="296.83" stroke="#999" stroke-width="1.0"/>
<line x1="119.90" y1="301.96" x2="432.50" y2="301.96" stroke="#999" stroke-width="1.0"/>
<line x1="119.90" y1="307.09" x2="435.20" y2="307.09" stroke="#999" stroke-width="1.0"/>
<line x1="119.90" y1="312.22" x2="501.60" y2="312.22" stroke="#999" stroke-width="1.0"/>
<line x1="119.90" y1="317.36" x2="515.80" y2="317.36" stroke="#999" stroke-width="1.0"/>
<line x1="119.90" y1="322.49" x2="528.40" y2="322.49" stroke="#999" stroke-width="1.0"/>
<line x1="119.90" y1="327.62" x2="462.00" y2="327.62" stroke="#999" stroke-width="1.0"/>
<line x1="119.90" y1="332.75" x2="479.00" y2="332.75" stroke="#999" stroke-width="1.0"/>
<line x1="119.90" y1="337.88" x2="472.00" y2="337.88" stroke="#999" stroke-width="1.0"/>
<line x1="119.90" y1="343.02" x2="497.70" y2="343.02" stroke="#999" stroke-width="1.0"/>
<line x1="119.90" y1="353.28" x2="416.80" y2="353.28" stroke="#999" stroke-width="1.0"/>
<line x1="119.90" y1="358.41" x2="425.20" y2="358.41" stroke="#999" stroke-width="1.0"/>
<line x1="119.90" y1="363.54" x2="416.80" y2="363.54" stroke="#999" stroke-width="1.0"/>
<line x1="119.90" y1="368.68" x2="368.70" y2="368.68" stroke="#999" stroke-width="1.0"/>
<line x1="119.90" y1="373.81" x2="421.50" y2="373.81" stroke="#999" stroke-width="1.0"/>
<line x1="119.90" y1="378.94" x2="428.90" y2="378.94" stroke="#999" stroke-width="1.0"/>
<line x1="119.90" y1="384.07" x2="421.50" y2="384.07" stroke="#999" stroke-width="1.0"/>
<line x1="119.90" y1="389.20" x2="427.30" y2="389.20" stroke="#999" stroke-width="1.0"/>
<line x1="119.90" y1="394.34" x2="458.80" y2="394.34" stroke="#999" stroke-width="1.0"/>
<line x1="119.90" y1="399.47" x2="464.60" y2="399.47" stroke="#999" stroke-width="1.0"/>
<line x1="119.90" y1="404.60" x2="483.30" y2="404.60" stroke="#999" stroke-width="1.0"/>
<line x1="119.90" y1="409.73" x2="472.50" y2="409.73" stroke="#999" stroke-width="1.0"/>
<line x1="119.90" y1="414.86" x2="506.10" y2="414.86" stroke="#999" stroke-width="1.0"/>
<line x1="119.90" y1="420.00" x2="506.40" y2="420.00" stroke="#999" stroke-width="1.0"/>
<line x1="119.90" y1="425.13" x2="520.80" y2="425.13" stroke="#999" stroke-width="1.0"/>
<line x1="119.90" y1="430.26" x2="541.60" y2="430.26" stroke="#999" stroke-width="1.0"/>
<line x1="119.90" y1="435.39" x2="416.80" y2="435.39" stroke="#999" stroke-width="1.0"/>
<line x1="119.90" y1="445.66" x2="502.70" y2="445.66" stroke="#999" stroke-width="1.0"/>
<circle cx="120.10" cy="276.30" r="1.42" fill="none" stroke="#000" stroke-width="0.72"/>
<circle cx="124.50" cy="276.30" r="1.42" fill="none" stroke="#000" stroke-width="0.72"/>
<circle cx="140.00" cy="276.30" r="1.42" fill="none" stroke="#000" stroke-width="0.72"/>
<circle cx="146.60" cy="276.30" r="1.42" fill="none" stroke="#000" stroke-width="0.72"/>
<circle cx="120.10" cy="281.43" r="1.42" fill="none" stroke="#000" stroke-width="0.72"/>
<circle cx="124.50" cy="281.43" r="1.42" fill="none" stroke="#000" stroke-width="0.72"/>
<circle cx="140.00" cy="281.43" r="1.42" fill="none" stroke="#000" stroke-width="0.72"/>
<circle cx="146.60" cy="281.43" r="1.42" fill="none" stroke="#000" stroke-width="0.72"/>
<circle cx="120.10" cy="286.56" r="1.42" fill="none" stroke="#000" stroke-width="0.72"/>
<circle cx="124.50" cy="286.56" r="1.42" fill="none" stroke="#000" stroke-width="0.72"/>
<circle cx="140.00" cy="286.56" r="1.42" fill="none" stroke="#000" stroke-width="0.72"/>
<circle cx="146.60" cy="286.56" r="1.42" fill="none" stroke="#000" stroke-width="0.72"/>
<circle cx="120.10" cy="291.70" r="1.42" fill="none" stroke="#000" stroke-width="0.72"/>
<circle cx="124.50" cy="291.70" r="1.42" fill="none" stroke="#000" stroke-width="0.72"/>
<circle cx="140.00" cy="291.70" r="1.42" fill="none" stroke="#000" stroke-width="0.72"/>
<circle cx="146.60" cy="291.70" r="1.42" fill="none" stroke="#000" stroke-width="0.72"/>
<circle cx="120.10" cy="296.83" r="1.42" fill="none" stroke="#000" stroke-width="0.72"/>
<circle cx="124.50" cy="296.83" r="1.42" fill="none" stroke="#000" stroke-width="0.72"/>
<circle cx="140.00" cy="296.83" r="1.42" fill="none" stroke="#000" stroke-width="0.72"/>
<circle cx="146.60" cy="296.83" r="1.42" fill="none" stroke="#000" stroke-width="0.72"/>
<circle cx="120.10" cy="301.96" r="1.42" fill="none" stroke="#000" stroke-width="0.72"/>
<circle cx="124.50" cy="301.96" r="1.42" fill="none" stroke="#000" stroke-width="0.72"/>
<circle cx="140.00" cy="301.96" r="1.42" fill="none" stroke="#000" stroke-width="0.72"/>
<circle cx="146.60" cy="301.96" r="1.42" fill="none" stroke="#000" stroke-width="0.72"/>
<circle cx="120.10" cy="307.09" r="1.42" fill="none" stroke="#000" stroke-width="0.72"/>
<circle cx="124.50" cy="307.09" r="1.42" fill="none" stroke="#000" stroke-width="0.72"/>
<circle cx="140.00" cy="307.09" r="1.42" fill="none" stroke="#000" stroke-width="0.72"/>
<circle cx="146.60" cy="307.09" r="1.42" fill="none" stroke="#000" stroke-width="0.72"/>
<circle cx="120.10" cy="312.22" r="1.42" fill="none" stroke="#000" stroke-width="0.72"/>
<circle cx="124.50" cy="312.22" r="1.42" fill="none" stroke="#000" stroke-width="0.72"/>
<circle cx="140.00" cy="312.22" r="1.42" fill="none" stroke="#000" stroke-width="0.72"/>
<circle cx="146.60" cy="312.22" r="1.42" fill="none" stroke="#000" stroke-width="0.72"/>
<circle cx="120.10" cy="317.36" r="1.42" fill="none" stroke="#000" stroke-width="0.72"/>
<circle cx="124.50" cy="317.36" r="1.42" fill="none" stroke="#000" stroke-width="0.72"/>
<circle cx="140.00" cy="317.36" r="1.42" fill="none" stroke="#000" stroke-width="0.72"/>
<circle cx="146.60" cy="317.36" r="1.42" fill="none" stroke="#000" stroke-width="0.72"/>
<circle cx="120.10" cy="322.49" r="1.42" fill="none" stroke="#000" stroke-width="0.72"/>
<circle cx="124.50" cy="322.49" r="1.42" fill="none" stroke="#000" stroke-width="0.72"/>
<circle cx="140.00" cy="322.49" r="1.42" fill="none" stroke="#000" stroke-width="0.72"/>
<circle cx="146.60" cy="322.49" r="1.42" fill="none" stroke="#000" stroke-width="0.72"/>
<circle cx="120.10" cy="327.62" r="1.42" fill="none" stroke="#000" stroke-width="0.72"/>
<circle cx="124.50" cy="327.62" r="1.42" fill="none" stroke="#000" stroke-width="0.72"/>
<circle cx="140.00" cy="327.62" r="1.42" fill="none" stroke="#000" stroke-width="0.72"/>
<circle cx="146.60" cy="327.62" r="1.42" fill="none" stroke="#000" stroke-width="0.72"/>
<circle cx="120.10" cy="332.75" r="1.42" fill="none" stroke="#000" stroke-width="0.72"/>
<circle cx="124.50" cy="332.75" r="1.42" fill="none" stroke="#000" stroke-width="0.72"/>
<circle cx="140.00" cy="332.75" r="1.42" fill="none" stroke="#000" stroke-width="0.72"/>
<circle cx="146.60" cy="332.75" r="1.42" fill="none" stroke="#000" stroke-width="0.72"/>
<circle cx="120.10" cy="337.88" r="1.42" fill="none" stroke="#000" stroke-width="0.72"/>
<circle cx="124.50" cy="337.88" r="1.42" fill="none" stroke="#000" stroke-width="0.72"/>
<circle cx="140.00" cy="337.88" r="1.42" fill="none" stroke="#000" stroke-width="0.72"/>
<circle cx="146.60" cy="337.88" r="1.42" fill="none" stroke="#000" stroke-width="0.72"/>
<circle cx="120.10" cy="343.02" r="1.42" fill="none" stroke="#000" stroke-width="0.72"/>
<circle cx="124.50" cy="343.02" r="1.42" fill="none" stroke="#000" stroke-width="0.72"/>
<circle cx="140.00" cy="343.02" r="1.42" fill="none" stroke="#000" stroke-width="0.72"/>
<circle cx="146.60" cy="343.02" r="1.42" fill="none" stroke="#000" stroke-width="0.72"/>
<circle cx="120.10" cy="348.15" r="1.42" fill="none" stroke="#000" stroke-width="0.72"/>
<circle cx="140.00" cy="348.15" r="1.42" fill="none" stroke="#000" stroke-width="0.72"/>
<circle cx="146.60" cy="348.15" r="1.42" fill="none" stroke="#000" stroke-width="0.72"/>
<circle cx="120.10" cy="353.28" r="1.42" fill="none" stroke="#000" stroke-width="0.72"/>
<circle cx="124.50" cy="353.28" r="1.42" fill="none" stroke="#000" stroke-width="0.72"/>
<circle cx="140.00" cy="353.28" r="1.42" fill="none" stroke="#000" stroke-width="0.72"/>
<circle cx="146.60" cy="353.28" r="1.42" fill="none" stroke="#000" stroke-width="0.72"/>
<circle cx="120.10" cy="358.41" r="1.42" fill="none" stroke="#000" stroke-width="0.72"/>
<circle cx="124.50" cy="358.41" r="1.42" fill="none" stroke="#000" stroke-width="0.72"/>
<circle cx="140.00" cy="358.41" r="1.42" fill="none" stroke="#000" stroke-width="0.72"/>
<circle cx="146.60" cy="358.41" r="1.42" fill="none" stroke="#000" stroke-width="0.72"/>
<circle cx="120.10" cy="363.54" r="1.42" fill="none" stroke="#000" stroke-width="0.72"/>
<circle cx="124.50" cy="363.54" r="1.42" fill="none" stroke="#000" stroke-width="0.72"/>
<circle cx="140.00" cy="363.54" r="1.42" fill="none" stroke="#000" stroke-width="0.72"/>
<circle cx="146.60" cy="363.54" r="1.42" fill="none" stroke="#000" stroke-width="0.72"/>
<circle cx="120.10" cy="368.68" r="1.42" fill="none" stroke="#000" stroke-width="0.72"/>
<circle cx="124.50" cy="368.68" r="1.42" fill="none" stroke="#000" stroke-width="0.72"/>
<circle cx="140.00" cy="368.68" r="1.42" fill="none" stroke="#000" stroke-width="0.72"/>
<circle cx="120.10" cy="373.81" r="1.42" fill="none" stroke="#000" stroke-width="0.72"/>
<circle cx="124.50" cy="373.81" r="1.42" fill="none" stroke="#000" stroke-width="0.72"/>
<circle cx="140.00" cy="373.81" r="1.42" fill="none" stroke="#000" stroke-width="0.72"/>
<circle cx="146.60" cy="373.81" r="1.42" fill="none" stroke="#000" stroke-width="0.72"/>
<circle cx="120.10" cy="378.94" r="1.42" fill="none" stroke="#000" stroke-width="0.72"/>
<circle cx="124.50" cy="378.94" r="1.42" fill="none" stroke="#000" stroke-width="0.72"/>
<circle cx="140.00" cy="378.94" r="1.42" fill="none" stroke="#000" stroke-width="0.72"/>
<circle cx="146.60" cy="378.94" r="1.42" fill="none" stroke="#000" stroke-width="0.72"/>
<circle cx="120.10" cy="384.07" r="1.42" fill="none" stroke="#000" stroke-width="0.72"/>
<circle cx="124.50" cy="384.07" r="1.42" fill="none" stroke="#000" stroke-width="0.72"/>
<circle cx="140.00" cy="384.07" r="1.42" fill="none" stroke="#000" stroke-width="0.72"/>
<circle cx="146.60" cy="384.07" r="1.42" fill="none" stroke="#000" stroke-width="0.72"/>
<circle cx="120.10" cy="389.20" r="1.42" fill="none" stroke="#000" stroke-width="0.72"/>
<circle cx="124.50" cy="389.20" r="1.42" fill="none" stroke="#000" stroke-width="0.72"/>
<circle cx="140.00" cy="389.20" r="1.42" fill="none" stroke="#000" stroke-width="0.72"/>
<circle cx="146.60" cy="389.20" r="1.42" fill="none" stroke="#000" stroke-width="0.72"/>
<circle cx="120.10" cy="394.34" r="1.42" fill="none" stroke="#000" stroke-width="0.72"/>
<circle cx="124.50" cy="394.34" r="1.42" fill="none" stroke="#000" stroke-width="0.72"/>
<circle cx="140.00" cy="394.34" r="1.42" fill="none" stroke="#000" stroke-width="0.72"/>
<circle cx="146.60" cy="394.34" r="1.42" fill="none" stroke="#000" stroke-width="0.72"/>
<circle cx="120.10" cy="399.47" r="1.42" fill="none" stroke="#000" stroke-width="0.72"/>
<circle cx="124.50" cy="399.47" r="1.42" fill="none" stroke="#000" stroke-width="0.72"/>
<circle cx="140.00" cy="399.47" r="1.42" fill="none" stroke="#000" stroke-width="0.72"/>
<circle cx="146.60" cy="399.47" r="1.42" fill="none" stroke="#000" stroke-width="0.72"/>
<circle cx="120.10" cy="404.60" r="1.42" fill="none" stroke="#000" stroke-width="0.72"/>
<circle cx="124.50" cy="404.60" r="1.42" fill="none" stroke="#000" stroke-width="0.72"/>
<circle cx="140.00" cy="404.60" r="1.42" fill="none" stroke="#000" stroke-width="0.72"/>
<circle cx="146.60" cy="404.60" r="1.42" fill="none" stroke="#000" stroke-width="0.72"/>
<circle cx="120.10" cy="409.73" r="1.42" fill="none" stroke="#000" stroke-width="0.72"/>
<circle cx="124.50" cy="409.73" r="1.42" fill="none" stroke="#000" stroke-width="0.72"/>
<circle cx="140.00" cy="409.73" r="1.42" fill="none" stroke="#000" stroke-width="0.72"/>
<circle cx="146.60" cy="409.73" r="1.42" fill="none" stroke="#000" stroke-width="0.72"/>
<circle cx="120.10" cy="414.86" r="1.42" fill="none" stroke="#000" stroke-width="0.72"/>
<circle cx="124.50" cy="414.86" r="1.42" fill="none" stroke="#000" stroke-width="0.72"/>
<circle cx="140.00" cy="414.86" r="1.42" fill="none" stroke="#000" stroke-width="0.72"/>
<circle cx="146.60" cy="414.86" r="1.42" fill="none" stroke="#000" stroke-width="0.72"/>
<circle cx="120.10" cy="420.00" r="1.42" fill="none" stroke="#000" stroke-width="0.72"/>
<circle cx="124.50" cy="420.00" r="1.42" fill="none" stroke="#000" stroke-width="0.72"/>
<circle cx="146.60" cy="420.00" r="1.42" fill="none" stroke="#000" stroke-width="0.72"/>
<circle cx="120.10" cy="425.13" r="1.42" fill="none" stroke="#000" stroke-width="0.72"/>
<circle cx="124.50" cy="425.13" r="1.42" fill="none" stroke="#000" stroke-width="0.72"/>
<circle cx="140.00" cy="425.13" r="1.42" fill="none" stroke="#000" stroke-width="0.72"/>
<circle cx="146.60" cy="425.13" r="1.42" fill="none" stroke="#000" stroke-width="0.72"/>
<circle cx="120.10" cy="430.26" r="1.42" fill="none" stroke="#000" stroke-width="0.72"/>
<circle cx="124.50" cy="430.26" r="1.42" fill="none" stroke="#000" stroke-width="0.72"/>
<circle cx="140.00" cy="430.26" r="1.42" fill="none" stroke="#000" stroke-width="0.72"/>
<circle cx="146.60" cy="430.26" r="1.42" fill="none" stroke="#000" stroke-width="0.72"/>
<circle cx="120.10" cy="435.39" r="1.42" fill="none" stroke="#000" stroke-width="0.72"/>
<circle cx="124.50" cy="435.39" r="1.42" fill="none" stroke="#000" stroke-width="0.72"/>
<circle cx="120.10" cy="440.52" r="1.42" fill="none" stroke="#000" stroke-width="0.72"/>
<circle cx="124.50" cy="440.52" r="1.42" fill="none" stroke="#000" stroke-width="0.72"/>
<circle cx="140.00" cy="440.52" r="1.42" fill="none" stroke="#000" stroke-width="0.72"/>
<circle cx="146.60" cy="440.52" r="1.42" fill="none" stroke="#000" stroke-width="0.72"/>
<circle cx="120.10" cy="445.66" r="1.42" fill="none" stroke="#000" stroke-width="0.72"/>
<circle cx="124.50" cy="445.66" r="1.42" fill="none" stroke="#000" stroke-width="0.72"/>
<circle cx="140.00" cy="445.66" r="1.42" fill="none" stroke="#000" stroke-width="0.72"/>
<circle cx="146.60" cy="445.66" r="1.42" fill="none" stroke="#000" stroke-width="0.72"/>
<line x1="119.90" y1="348.15" x2="534.50" y2="348.15" stroke="#a83030" stroke-width="1.1"/>
<line x1="119.90" y1="440.52" x2="388.70" y2="440.52" stroke="#a83030" stroke-width="1.1"/>
<line x1="142.6" y1="271.4" x2="142.6" y2="448.65" stroke="#bcdbe5" stroke-width="1.35"/>
<path d="M532.20,346.45 L536.80,346.45 L534.50,350.35 Z" fill="none" stroke="#b83232" stroke-width="1.3" stroke-linejoin="miter"/>
<path d="M386.40,438.82 L391.00,438.82 L388.70,442.72 Z" fill="none" stroke="#b83232" stroke-width="1.3" stroke-linejoin="miter"/>
<circle cx="76.0" cy="276.30" r="2.4" fill="#cab2d6" stroke="#000" stroke-width="0.7"/>
<circle cx="87.1" cy="276.30" r="2.4" fill="#ffff99" stroke="#000" stroke-width="0.7"/>
<circle cx="98.3" cy="276.30" r="2.4" fill="#1f78b4" stroke="#000" stroke-width="0.7"/>
<circle cx="76.0" cy="281.43" r="2.4" fill="#cab2d6" stroke="#000" stroke-width="0.7"/>
<circle cx="87.1" cy="281.43" r="2.4" fill="#ffff99" stroke="#000" stroke-width="0.7"/>
<circle cx="98.3" cy="281.43" r="2.4" fill="#1f78b4" stroke="#000" stroke-width="0.7"/>
<circle cx="76.0" cy="286.56" r="2.4" fill="#cab2d6" stroke="#000" stroke-width="0.7"/>
<circle cx="87.1" cy="286.56" r="2.4" fill="#ffff99" stroke="#000" stroke-width="0.7"/>
<circle cx="98.3" cy="286.56" r="2.4" fill="#1f78b4" stroke="#000" stroke-width="0.7"/>
<circle cx="76.0" cy="291.70" r="2.4" fill="#b15928" stroke="#000" stroke-width="0.7"/>
<circle cx="87.1" cy="291.70" r="2.4" fill="#ffff99" stroke="#000" stroke-width="0.7"/>
<circle cx="98.3" cy="291.70" r="2.4" fill="#1f78b4" stroke="#000" stroke-width="0.7"/>
<circle cx="76.0" cy="296.83" r="2.4" fill="#b15928" stroke="#000" stroke-width="0.7"/>
<circle cx="87.1" cy="296.83" r="2.4" fill="#ffff99" stroke="#000" stroke-width="0.7"/>
<circle cx="98.3" cy="296.83" r="2.4" fill="#1f78b4" stroke="#000" stroke-width="0.7"/>
<circle cx="76.0" cy="301.96" r="2.4" fill="#cab2d6" stroke="#000" stroke-width="0.7"/>
<circle cx="87.1" cy="301.96" r="2.4" fill="#ffff99" stroke="#000" stroke-width="0.7"/>
<circle cx="98.3" cy="301.96" r="2.4" fill="#1f78b4" stroke="#000" stroke-width="0.7"/>
<circle cx="76.0" cy="307.09" r="2.4" fill="#cab2d6" stroke="#000" stroke-width="0.7"/>
<circle cx="87.1" cy="307.09" r="2.4" fill="#ffff99" stroke="#000" stroke-width="0.7"/>
<circle cx="98.3" cy="307.09" r="2.4" fill="#1f78b4" stroke="#000" stroke-width="0.7"/>
<circle cx="76.0" cy="312.22" r="2.4" fill="#cab2d6" stroke="#000" stroke-width="0.7"/>
<circle cx="87.1" cy="312.22" r="2.4" fill="#ffff99" stroke="#000" stroke-width="0.7"/>
<circle cx="98.3" cy="312.22" r="2.4" fill="#1f78b4" stroke="#000" stroke-width="0.7"/>
<circle cx="76.0" cy="317.36" r="2.4" fill="#cab2d6" stroke="#000" stroke-width="0.7"/>
<circle cx="87.1" cy="317.36" r="2.4" fill="#ffff99" stroke="#000" stroke-width="0.7"/>
<circle cx="98.3" cy="317.36" r="2.4" fill="#1f78b4" stroke="#000" stroke-width="0.7"/>
<circle cx="76.0" cy="322.49" r="2.4" fill="#cab2d6" stroke="#000" stroke-width="0.7"/>
<circle cx="87.1" cy="322.49" r="2.4" fill="#ff7f00" stroke="#000" stroke-width="0.7"/>
<circle cx="98.3" cy="322.49" r="2.4" fill="#1f78b4" stroke="#000" stroke-width="0.7"/>
<circle cx="76.0" cy="327.62" r="2.4" fill="#cab2d6" stroke="#000" stroke-width="0.7"/>
<circle cx="87.1" cy="327.62" r="2.4" fill="#ff7f00" stroke="#000" stroke-width="0.7"/>
<circle cx="98.3" cy="327.62" r="2.4" fill="#1f78b4" stroke="#000" stroke-width="0.7"/>
<circle cx="76.0" cy="332.75" r="2.4" fill="#cab2d6" stroke="#000" stroke-width="0.7"/>
<circle cx="87.1" cy="332.75" r="2.4" fill="#ffff99" stroke="#000" stroke-width="0.7"/>
<circle cx="98.3" cy="332.75" r="2.4" fill="#1f78b4" stroke="#000" stroke-width="0.7"/>
<circle cx="76.0" cy="337.88" r="2.4" fill="#b15928" stroke="#000" stroke-width="0.7"/>
<circle cx="87.1" cy="337.88" r="2.4" fill="#ff7f00" stroke="#000" stroke-width="0.7"/>
<circle cx="98.3" cy="337.88" r="2.4" fill="#1f78b4" stroke="#000" stroke-width="0.7"/>
<circle cx="76.0" cy="343.02" r="2.4" fill="#b15928" stroke="#000" stroke-width="0.7"/>
<circle cx="87.1" cy="343.02" r="2.4" fill="#ffff99" stroke="#000" stroke-width="0.7"/>
<circle cx="98.3" cy="343.02" r="2.4" fill="#1f78b4" stroke="#000" stroke-width="0.7"/>
<circle cx="76.0" cy="348.15" r="2.4" fill="#cab2d6" stroke="#000" stroke-width="0.7"/>
<circle cx="87.1" cy="348.15" r="2.4" fill="#ffff99" stroke="#000" stroke-width="0.7"/>
<circle cx="98.3" cy="348.15" r="2.4" fill="#1f78b4" stroke="#000" stroke-width="0.7"/>
<circle cx="76.0" cy="353.28" r="2.4" fill="#cab2d6" stroke="#000" stroke-width="0.7"/>
<circle cx="87.1" cy="353.28" r="2.4" fill="#ffff99" stroke="#000" stroke-width="0.7"/>
<circle cx="98.3" cy="353.28" r="2.4" fill="#1f78b4" stroke="#000" stroke-width="0.7"/>
<circle cx="76.0" cy="358.41" r="2.4" fill="#cab2d6" stroke="#000" stroke-width="0.7"/>
<circle cx="87.1" cy="358.41" r="2.4" fill="#ff7f00" stroke="#000" stroke-width="0.7"/>
<circle cx="98.3" cy="358.41" r="2.4" fill="#b2df8a" stroke="#000" stroke-width="0.7"/>
<circle cx="76.0" cy="363.54" r="2.4" fill="#cab2d6" stroke="#000" stroke-width="0.7"/>
<circle cx="87.1" cy="363.54" r="2.4" fill="#ffff99" stroke="#000" stroke-width="0.7"/>
<circle cx="98.3" cy="363.54" r="2.4" fill="#1f78b4" stroke="#000" stroke-width="0.7"/>
<circle cx="76.0" cy="368.68" r="2.4" fill="#cab2d6" stroke="#000" stroke-width="0.7"/>
<circle cx="87.1" cy="368.68" r="2.4" fill="#ff7f00" stroke="#000" stroke-width="0.7"/>
<circle cx="98.3" cy="368.68" r="2.4" fill="#1f78b4" stroke="#000" stroke-width="0.7"/>
<circle cx="76.0" cy="373.81" r="2.4" fill="#cab2d6" stroke="#000" stroke-width="0.7"/>
<circle cx="87.1" cy="373.81" r="2.4" fill="#ffff99" stroke="#000" stroke-width="0.7"/>
<circle cx="98.3" cy="373.81" r="2.4" fill="#1f78b4" stroke="#000" stroke-width="0.7"/>
<circle cx="76.0" cy="378.94" r="2.4" fill="#cab2d6" stroke="#000" stroke-width="0.7"/>
<circle cx="87.1" cy="378.94" r="2.4" fill="#ff7f00" stroke="#000" stroke-width="0.7"/>
<circle cx="98.3" cy="378.94" r="2.4" fill="#1f78b4" stroke="#000" stroke-width="0.7"/>
<circle cx="76.0" cy="384.07" r="2.4" fill="#cab2d6" stroke="#000" stroke-width="0.7"/>
<circle cx="87.1" cy="384.07" r="2.4" fill="#ffff99" stroke="#000" stroke-width="0.7"/>
<circle cx="98.3" cy="384.07" r="2.4" fill="#1f78b4" stroke="#000" stroke-width="0.7"/>
<circle cx="76.0" cy="389.20" r="2.4" fill="#cab2d6" stroke="#000" stroke-width="0.7"/>
<circle cx="87.1" cy="389.20" r="2.4" fill="#ffff99" stroke="#000" stroke-width="0.7"/>
<circle cx="98.3" cy="389.20" r="2.4" fill="#1f78b4" stroke="#000" stroke-width="0.7"/>
<circle cx="76.0" cy="394.34" r="2.4" fill="#cab2d6" stroke="#000" stroke-width="0.7"/>
<circle cx="87.1" cy="394.34" r="2.4" fill="#ffff99" stroke="#000" stroke-width="0.7"/>
<circle cx="98.3" cy="394.34" r="2.4" fill="#1f78b4" stroke="#000" stroke-width="0.7"/>
<circle cx="76.0" cy="399.47" r="2.4" fill="#cab2d6" stroke="#000" stroke-width="0.7"/>
<circle cx="87.1" cy="399.47" r="2.4" fill="#ffff99" stroke="#000" stroke-width="0.7"/>
<circle cx="98.3" cy="399.47" r="2.4" fill="#1f78b4" stroke="#000" stroke-width="0.7"/>
<circle cx="76.0" cy="404.60" r="2.4" fill="#cab2d6" stroke="#000" stroke-width="0.7"/>
<circle cx="87.1" cy="404.60" r="2.4" fill="#ff7f00" stroke="#000" stroke-width="0.7"/>
<circle cx="98.3" cy="404.60" r="2.4" fill="#b2df8a" stroke="#000" stroke-width="0.7"/>
<circle cx="76.0" cy="409.73" r="2.4" fill="#cab2d6" stroke="#000" stroke-width="0.7"/>
<circle cx="87.1" cy="409.73" r="2.4" fill="#ffff99" stroke="#000" stroke-width="0.7"/>
<circle cx="98.3" cy="409.73" r="2.4" fill="#1f78b4" stroke="#000" stroke-width="0.7"/>
<circle cx="76.0" cy="414.86" r="2.4" fill="#cab2d6" stroke="#000" stroke-width="0.7"/>
<circle cx="87.1" cy="414.86" r="2.4" fill="#ff7f00" stroke="#000" stroke-width="0.7"/>
<circle cx="98.3" cy="414.86" r="2.4" fill="#1f78b4" stroke="#000" stroke-width="0.7"/>
<circle cx="76.0" cy="420.00" r="2.4" fill="#b15928" stroke="#000" stroke-width="0.7"/>
<circle cx="87.1" cy="420.00" r="2.4" fill="#ff7f00" stroke="#000" stroke-width="0.7"/>
<circle cx="98.3" cy="420.00" r="2.4" fill="#1f78b4" stroke="#000" stroke-width="0.7"/>
<circle cx="76.0" cy="425.13" r="2.4" fill="#cab2d6" stroke="#000" stroke-width="0.7"/>
<circle cx="87.1" cy="425.13" r="2.4" fill="#ff7f00" stroke="#000" stroke-width="0.7"/>
<circle cx="98.3" cy="425.13" r="2.4" fill="#1f78b4" stroke="#000" stroke-width="0.7"/>
<circle cx="76.0" cy="430.26" r="2.4" fill="#cab2d6" stroke="#000" stroke-width="0.7"/>
<circle cx="87.1" cy="430.26" r="2.4" fill="#ffff99" stroke="#000" stroke-width="0.7"/>
<circle cx="98.3" cy="430.26" r="2.4" fill="#1f78b4" stroke="#000" stroke-width="0.7"/>
<circle cx="76.0" cy="435.39" r="2.4" fill="#b15928" stroke="#000" stroke-width="0.7"/>
<circle cx="87.1" cy="435.39" r="2.4" fill="#ffff99" stroke="#000" stroke-width="0.7"/>
<circle cx="98.3" cy="435.39" r="2.4" fill="#1f78b4" stroke="#000" stroke-width="0.7"/>
<circle cx="76.0" cy="440.52" r="2.4" fill="#cab2d6" stroke="#000" stroke-width="0.7"/>
<circle cx="87.1" cy="440.52" r="2.4" fill="#ff7f00" stroke="#000" stroke-width="0.7"/>
<circle cx="98.3" cy="440.52" r="2.4" fill="#1f78b4" stroke="#000" stroke-width="0.7"/>
<circle cx="76.0" cy="445.66" r="2.4" fill="#cab2d6" stroke="#000" stroke-width="0.7"/>
<circle cx="87.1" cy="445.66" r="2.4" fill="#ffff99" stroke="#000" stroke-width="0.7"/>
<circle cx="98.3" cy="445.66" r="2.4" fill="#1f78b4" stroke="#000" stroke-width="0.7"/>
<rect x="52.6" y="271.4" width="512.1" height="177.25" fill="none" stroke="#8a8a8a" stroke-width="1"/>
<line x1="52.6" y1="270.9" x2="52.6" y2="449.15" stroke="#606060" stroke-width="1"/>
<line x1="51.0" y1="276.30" x2="52.6" y2="276.30" stroke="#222" stroke-width="1"/>
<text x="0" y="0" transform="translate(49.1,278.50) rotate(0.3)" text-anchor="end" font-size="6.2" fill="#707070" stroke="#7a7a7a" stroke-width="0.15" letter-spacing="-0.2">NRH30008</text>
<line x1="51.0" y1="281.43" x2="52.6" y2="281.43" stroke="#222" stroke-width="1"/>
<text x="0" y="0" transform="translate(49.1,283.63) rotate(0.3)" text-anchor="end" font-size="6.2" fill="#707070" stroke="#7a7a7a" stroke-width="0.15" letter-spacing="-0.2">NRH25037</text>
<line x1="51.0" y1="286.56" x2="52.6" y2="286.56" stroke="#222" stroke-width="1"/>
<text x="0" y="0" transform="translate(49.1,288.76) rotate(0.3)" text-anchor="end" font-size="6.2" fill="#707070" stroke="#7a7a7a" stroke-width="0.15" letter-spacing="-0.2">NRH25033</text>
<line x1="51.0" y1="291.70" x2="52.6" y2="291.70" stroke="#222" stroke-width="1"/>
<text x="0" y="0" transform="translate(49.1,293.90) rotate(0.3)" text-anchor="end" font-size="6.2" fill="#707070" stroke="#7a7a7a" stroke-width="0.15" letter-spacing="-0.2">NRH25028</text>
<line x1="51.0" y1="296.83" x2="52.6" y2="296.83" stroke="#222" stroke-width="1"/>
<text x="0" y="0" transform="translate(49.1,299.03) rotate(0.3)" text-anchor="end" font-size="6.2" fill="#707070" stroke="#7a7a7a" stroke-width="0.15" letter-spacing="-0.2">NRH25027</text>
<line x1="51.0" y1="301.96" x2="52.6" y2="301.96" stroke="#222" stroke-width="1"/>
<text x="0" y="0" transform="translate(49.1,304.16) rotate(0.3)" text-anchor="end" font-size="6.2" fill="#707070" stroke="#7a7a7a" stroke-width="0.15" letter-spacing="-0.2">NRH25026</text>
<line x1="51.0" y1="307.09" x2="52.6" y2="307.09" stroke="#222" stroke-width="1"/>
<text x="0" y="0" transform="translate(49.1,309.29) rotate(0.3)" text-anchor="end" font-size="6.2" fill="#707070" stroke="#7a7a7a" stroke-width="0.15" letter-spacing="-0.2">NRH25024</text>
<line x1="51.0" y1="312.22" x2="52.6" y2="312.22" stroke="#222" stroke-width="1"/>
<text x="0" y="0" transform="translate(49.1,314.42) rotate(0.3)" text-anchor="end" font-size="6.2" fill="#707070" stroke="#7a7a7a" stroke-width="0.15" letter-spacing="-0.2">NRH25023</text>
<line x1="51.0" y1="317.36" x2="52.6" y2="317.36" stroke="#222" stroke-width="1"/>
<text x="0" y="0" transform="translate(49.1,319.56) rotate(0.3)" text-anchor="end" font-size="6.2" fill="#707070" stroke="#7a7a7a" stroke-width="0.15" letter-spacing="-0.2">NRH25018</text>
<line x1="51.0" y1="322.49" x2="52.6" y2="322.49" stroke="#222" stroke-width="1"/>
<text x="0" y="0" transform="translate(49.1,324.69) rotate(0.3)" text-anchor="end" font-size="6.2" fill="#707070" stroke="#7a7a7a" stroke-width="0.15" letter-spacing="-0.2">NRH25016</text>
<line x1="51.0" y1="327.62" x2="52.6" y2="327.62" stroke="#222" stroke-width="1"/>
<text x="0" y="0" transform="translate(49.1,329.82) rotate(0.3)" text-anchor="end" font-size="6.2" fill="#707070" stroke="#7a7a7a" stroke-width="0.15" letter-spacing="-0.2">NRH25013</text>
<line x1="51.0" y1="332.75" x2="52.6" y2="332.75" stroke="#222" stroke-width="1"/>
<text x="0" y="0" transform="translate(49.1,334.95) rotate(0.3)" text-anchor="end" font-size="6.2" fill="#707070" stroke="#7a7a7a" stroke-width="0.15" letter-spacing="-0.2">NRH25012</text>
<line x1="51.0" y1="337.88" x2="52.6" y2="337.88" stroke="#222" stroke-width="1"/>
<text x="0" y="0" transform="translate(49.1,340.08) rotate(0.3)" text-anchor="end" font-size="6.2" fill="#707070" stroke="#7a7a7a" stroke-width="0.15" letter-spacing="-0.2">NRH25011</text>
<line x1="51.0" y1="343.02" x2="52.6" y2="343.02" stroke="#222" stroke-width="1"/>
<text x="0" y="0" transform="translate(49.1,345.22) rotate(0.3)" text-anchor="end" font-size="6.2" fill="#707070" stroke="#7a7a7a" stroke-width="0.15" letter-spacing="-0.2">NRH25008</text>
<line x1="51.0" y1="348.15" x2="52.6" y2="348.15" stroke="#222" stroke-width="1"/>
<text x="0" y="0" transform="translate(49.1,350.35) rotate(0.3)" text-anchor="end" font-size="6.2" fill="#707070" stroke="#7a7a7a" stroke-width="0.15" letter-spacing="-0.2">NRH25003</text>
<line x1="51.0" y1="353.28" x2="52.6" y2="353.28" stroke="#222" stroke-width="1"/>
<text x="0" y="0" transform="translate(49.1,355.48) rotate(0.3)" text-anchor="end" font-size="6.2" fill="#707070" stroke="#7a7a7a" stroke-width="0.15" letter-spacing="-0.2">NRH20013</text>
<line x1="51.0" y1="358.41" x2="52.6" y2="358.41" stroke="#222" stroke-width="1"/>
<text x="0" y="0" transform="translate(49.1,360.61) rotate(0.3)" text-anchor="end" font-size="6.2" fill="#707070" stroke="#7a7a7a" stroke-width="0.15" letter-spacing="-0.2">NRH20012</text>
<line x1="51.0" y1="363.54" x2="52.6" y2="363.54" stroke="#222" stroke-width="1"/>
<text x="0" y="0" transform="translate(49.1,365.74) rotate(0.3)" text-anchor="end" font-size="6.2" fill="#707070" stroke="#7a7a7a" stroke-width="0.15" letter-spacing="-0.2">NRH20011</text>
<line x1="51.0" y1="368.68" x2="52.6" y2="368.68" stroke="#222" stroke-width="1"/>
<text x="0" y="0" transform="translate(49.1,370.88) rotate(0.3)" text-anchor="end" font-size="6.2" fill="#707070" stroke="#7a7a7a" stroke-width="0.15" letter-spacing="-0.2">NRH20010</text>
<line x1="51.0" y1="373.81" x2="52.6" y2="373.81" stroke="#222" stroke-width="1"/>
<text x="0" y="0" transform="translate(49.1,376.01) rotate(0.3)" text-anchor="end" font-size="6.2" fill="#707070" stroke="#7a7a7a" stroke-width="0.15" letter-spacing="-0.2">NRH20008</text>
<line x1="51.0" y1="378.94" x2="52.6" y2="378.94" stroke="#222" stroke-width="1"/>
<text x="0" y="0" transform="translate(49.1,381.14) rotate(0.3)" text-anchor="end" font-size="6.2" fill="#707070" stroke="#7a7a7a" stroke-width="0.15" letter-spacing="-0.2">NRH17033</text>
<line x1="51.0" y1="384.07" x2="52.6" y2="384.07" stroke="#222" stroke-width="1"/>
<text x="0" y="0" transform="translate(49.1,386.27) rotate(0.3)" text-anchor="end" font-size="6.2" fill="#707070" stroke="#7a7a7a" stroke-width="0.15" letter-spacing="-0.2">NRH17031</text>
<line x1="51.0" y1="389.20" x2="52.6" y2="389.20" stroke="#222" stroke-width="1"/>
<text x="0" y="0" transform="translate(49.1,391.40) rotate(0.3)" text-anchor="end" font-size="6.2" fill="#707070" stroke="#7a7a7a" stroke-width="0.15" letter-spacing="-0.2">NRH17030</text>
<line x1="51.0" y1="394.34" x2="52.6" y2="394.34" stroke="#222" stroke-width="1"/>
<text x="0" y="0" transform="translate(49.1,396.54) rotate(0.3)" text-anchor="end" font-size="6.2" fill="#707070" stroke="#7a7a7a" stroke-width="0.15" letter-spacing="-0.2">NRH17029</text>
<line x1="51.0" y1="399.47" x2="52.6" y2="399.47" stroke="#222" stroke-width="1"/>
<text x="0" y="0" transform="translate(49.1,401.67) rotate(0.3)" text-anchor="end" font-size="6.2" fill="#707070" stroke="#7a7a7a" stroke-width="0.15" letter-spacing="-0.2">NRH17022</text>
<line x1="51.0" y1="404.60" x2="52.6" y2="404.60" stroke="#222" stroke-width="1"/>
<text x="0" y="0" transform="translate(49.1,406.80) rotate(0.3)" text-anchor="end" font-size="6.2" fill="#707070" stroke="#7a7a7a" stroke-width="0.15" letter-spacing="-0.2">NRH17021</text>
<line x1="51.0" y1="409.73" x2="52.6" y2="409.73" stroke="#222" stroke-width="1"/>
<text x="0" y="0" transform="translate(49.1,411.93) rotate(0.3)" text-anchor="end" font-size="6.2" fill="#707070" stroke="#7a7a7a" stroke-width="0.15" letter-spacing="-0.2">NRH17014</text>
<line x1="51.0" y1="414.86" x2="52.6" y2="414.86" stroke="#222" stroke-width="1"/>
<text x="0" y="0" transform="translate(49.1,417.06) rotate(0.3)" text-anchor="end" font-size="6.2" fill="#707070" stroke="#7a7a7a" stroke-width="0.15" letter-spacing="-0.2">NRH17012</text>
<line x1="51.0" y1="420.00" x2="52.6" y2="420.00" stroke="#222" stroke-width="1"/>
<text x="0" y="0" transform="translate(49.1,422.20) rotate(0.3)" text-anchor="end" font-size="6.2" fill="#707070" stroke="#7a7a7a" stroke-width="0.15" letter-spacing="-0.2">NRH17008</text>
<line x1="51.0" y1="425.13" x2="52.6" y2="425.13" stroke="#222" stroke-width="1"/>
<text x="0" y="0" transform="translate(49.1,427.33) rotate(0.3)" text-anchor="end" font-size="6.2" fill="#707070" stroke="#7a7a7a" stroke-width="0.15" letter-spacing="-0.2">NRH17003</text>
<line x1="51.0" y1="430.26" x2="52.6" y2="430.26" stroke="#222" stroke-width="1"/>
<text x="0" y="0" transform="translate(49.1,432.46) rotate(0.3)" text-anchor="end" font-size="6.2" fill="#707070" stroke="#7a7a7a" stroke-width="0.15" letter-spacing="-0.2">NRH17002</text>
<line x1="51.0" y1="435.39" x2="52.6" y2="435.39" stroke="#222" stroke-width="1"/>
<text x="0" y="0" transform="translate(49.1,437.59) rotate(0.3)" text-anchor="end" font-size="6.2" fill="#707070" stroke="#7a7a7a" stroke-width="0.15" letter-spacing="-0.2">NRH15006</text>
<line x1="51.0" y1="440.52" x2="52.6" y2="440.52" stroke="#222" stroke-width="1"/>
<text x="0" y="0" transform="translate(49.1,442.72) rotate(0.3)" text-anchor="end" font-size="6.2" fill="#707070" stroke="#7a7a7a" stroke-width="0.15" letter-spacing="-0.2">NRH15002</text>
<line x1="51.0" y1="445.66" x2="52.6" y2="445.66" stroke="#222" stroke-width="1"/>
<text x="0" y="0" transform="translate(49.1,447.86) rotate(0.3)" text-anchor="end" font-size="6.2" fill="#707070" stroke="#7a7a7a" stroke-width="0.15" letter-spacing="-0.2">NRH15001</text>
<line x1="119.90" y1="448.65" x2="119.90" y2="450.45" stroke="#333" stroke-width="0.6"/>
<text x="119.90" y="457.0" text-anchor="middle" font-size="5.7" fill="#666">0</text>
<line x1="186.10" y1="448.65" x2="186.10" y2="450.45" stroke="#333" stroke-width="0.6"/>
<text x="186.10" y="457.0" text-anchor="middle" font-size="5.7" fill="#666">300</text>
<line x1="252.30" y1="448.65" x2="252.30" y2="450.45" stroke="#333" stroke-width="0.6"/>
<text x="252.30" y="457.0" text-anchor="middle" font-size="5.7" fill="#666">600</text>
<line x1="318.50" y1="448.65" x2="318.50" y2="450.45" stroke="#333" stroke-width="0.6"/>
<text x="318.50" y="457.0" text-anchor="middle" font-size="5.7" fill="#666">900</text>
<line x1="384.70" y1="448.65" x2="384.70" y2="450.45" stroke="#333" stroke-width="0.6"/>
<text x="384.70" y="457.0" text-anchor="middle" font-size="5.7" fill="#666">1200</text>
<line x1="450.90" y1="448.65" x2="450.90" y2="450.45" stroke="#333" stroke-width="0.6"/>
<text x="450.90" y="457.0" text-anchor="middle" font-size="5.7" fill="#666">1500</text>
<line x1="517.11" y1="448.65" x2="517.11" y2="450.45" stroke="#333" stroke-width="0.6"/>
<text x="517.11" y="457.0" text-anchor="middle" font-size="5.7" fill="#666">1800</text>
<text x="308.8" y="464.9" text-anchor="middle" font-size="7.2" fill="#000">Timeline in days</text>
<text x="0" y="0" text-anchor="middle" font-size="7.5" fill="#000" style="text-rendering:optimizeLegibility" transform="translate(12.2,360.02) rotate(-90)">Patient</text>
<text x="3.3" y="6.8" font-size="9.5" font-weight="bold" fill="#000" stroke="#000" stroke-width="0.3">A</text>
<text x="3.6" y="245.0" font-size="9.6" font-weight="bold" fill="#000" stroke="#000" stroke-width="0.3">B</text>
<text x="0" y="0" font-size="3.75" fill="#222" style="text-rendering:optimizeLegibility" transform="translate(77.55,269.6) rotate(-90) scale(1,1.25)">RCB Class</text>
<line x1="76.0" y1="269.4" x2="76.0" y2="271.4" stroke="#333" stroke-width="0.8"/>
<text x="0" y="0" font-size="3.75" fill="#222" style="text-rendering:optimizeLegibility" transform="translate(88.65,269.6) rotate(-90) scale(1,1.25)">Multifocal/Multicentric</text>
<line x1="87.1" y1="269.4" x2="87.1" y2="271.4" stroke="#333" stroke-width="0.8"/>
<text x="0" y="0" font-size="3.75" fill="#222" style="text-rendering:optimizeLegibility" transform="translate(99.85,269.6) rotate(-90) scale(1,1.25)">Histological Grade</text>
<line x1="98.3" y1="269.4" x2="98.3" y2="271.4" stroke="#333" stroke-width="0.8"/>
<path d="M607.9,126.3 L613.1,126.3 L610.5,130.3 Z" fill="none" stroke="#b83232" stroke-width="1.4"/>
<line x1="606" y1="138.8" x2="615" y2="138.8" stroke="#c27a7a" stroke-width="1.9"/>
<line x1="606" y1="150.4" x2="615" y2="150.4" stroke="#ffc8d2" stroke-width="0.9"/>
<text x="620" y="130.0" font-size="5.9" stroke="#444" stroke-width="0.12" fill="#1a1a1a">Relapse</text>
<text x="620" y="140.9" font-size="5.9" stroke="#444" stroke-width="0.12" fill="#1a1a1a">Distant</text>
<text x="620" y="152.5" font-size="5.9" stroke="#444" stroke-width="0.12" fill="#1a1a1a">Locoregional</text>
<text x="605" y="176.8" font-size="7.1" font-weight="bold" fill="#000">RCB Class</text>
<circle cx="610.4" cy="186.5" r="2.5" fill="#cab2d6" stroke="#000" stroke-width="0.65"/>
<circle cx="610.4" cy="198.3" r="2.5" fill="#b15928" stroke="#000" stroke-width="0.65"/>
<text x="620" y="188.6" font-size="5.9" stroke="#444" stroke-width="0.12" fill="#1a1a1a">0−2</text>
<text x="620" y="200.4" font-size="5.9" stroke="#444" stroke-width="0.12" fill="#1a1a1a">3</text>
<text x="605" y="224.3" font-size="7.1" font-weight="bold" fill="#000">Histological Grade</text>
<circle cx="610.5" cy="234.3" r="2.5" fill="#1f78b4" stroke="#000" stroke-width="0.65"/>
<circle cx="610.5" cy="245.9" r="2.5" fill="#b2df8a" stroke="#000" stroke-width="0.65"/>
<circle cx="610.5" cy="257.4" r="2.5" fill="#7f7f7f" stroke="#000" stroke-width="0.65"/>
<text x="620" y="236.4" font-size="5.9" stroke="#444" stroke-width="0.12" fill="#1a1a1a">G1−G2</text>
<text x="620" y="248.0" font-size="5.9" stroke="#444" stroke-width="0.12" fill="#1a1a1a">G3</text>
<text x="620" y="259.5" font-size="5.9" stroke="#444" stroke-width="0.12" fill="#1a1a1a">NA</text>
<text x="605" y="283.6" font-size="7.1" font-weight="bold" fill="#000">Multifocal/Multicentric</text>
<circle cx="610.5" cy="293.6" r="2.5" fill="#ffff99" stroke="#000" stroke-width="0.65"/>
<circle cx="610.5" cy="305.4" r="2.5" fill="#ff7f00" stroke="#000" stroke-width="0.65"/>
<text x="620" y="295.7" font-size="5.9" stroke="#444" stroke-width="0.12" fill="#1a1a1a">No</text>
<text x="620" y="307.5" font-size="5.9" stroke="#444" stroke-width="0.12" fill="#1a1a1a">Yes</text>
<text x="605" y="331.2" font-size="7.1" font-weight="bold" fill="#000">ctDNA</text>
<circle cx="610.3" cy="341.5" r="1.2" fill="#fff" stroke="#000" stroke-width="0.75"/>
<circle cx="610.3" cy="353.1" r="1.45" fill="#000"/>
<text x="620" y="343.6" font-size="5.9" stroke="#444" stroke-width="0.12" fill="#1a1a1a">Negative</text>
<text x="620" y="355.2" font-size="5.9" stroke="#444" stroke-width="0.12" fill="#1a1a1a">Positive</text>
</svg></body></html>
